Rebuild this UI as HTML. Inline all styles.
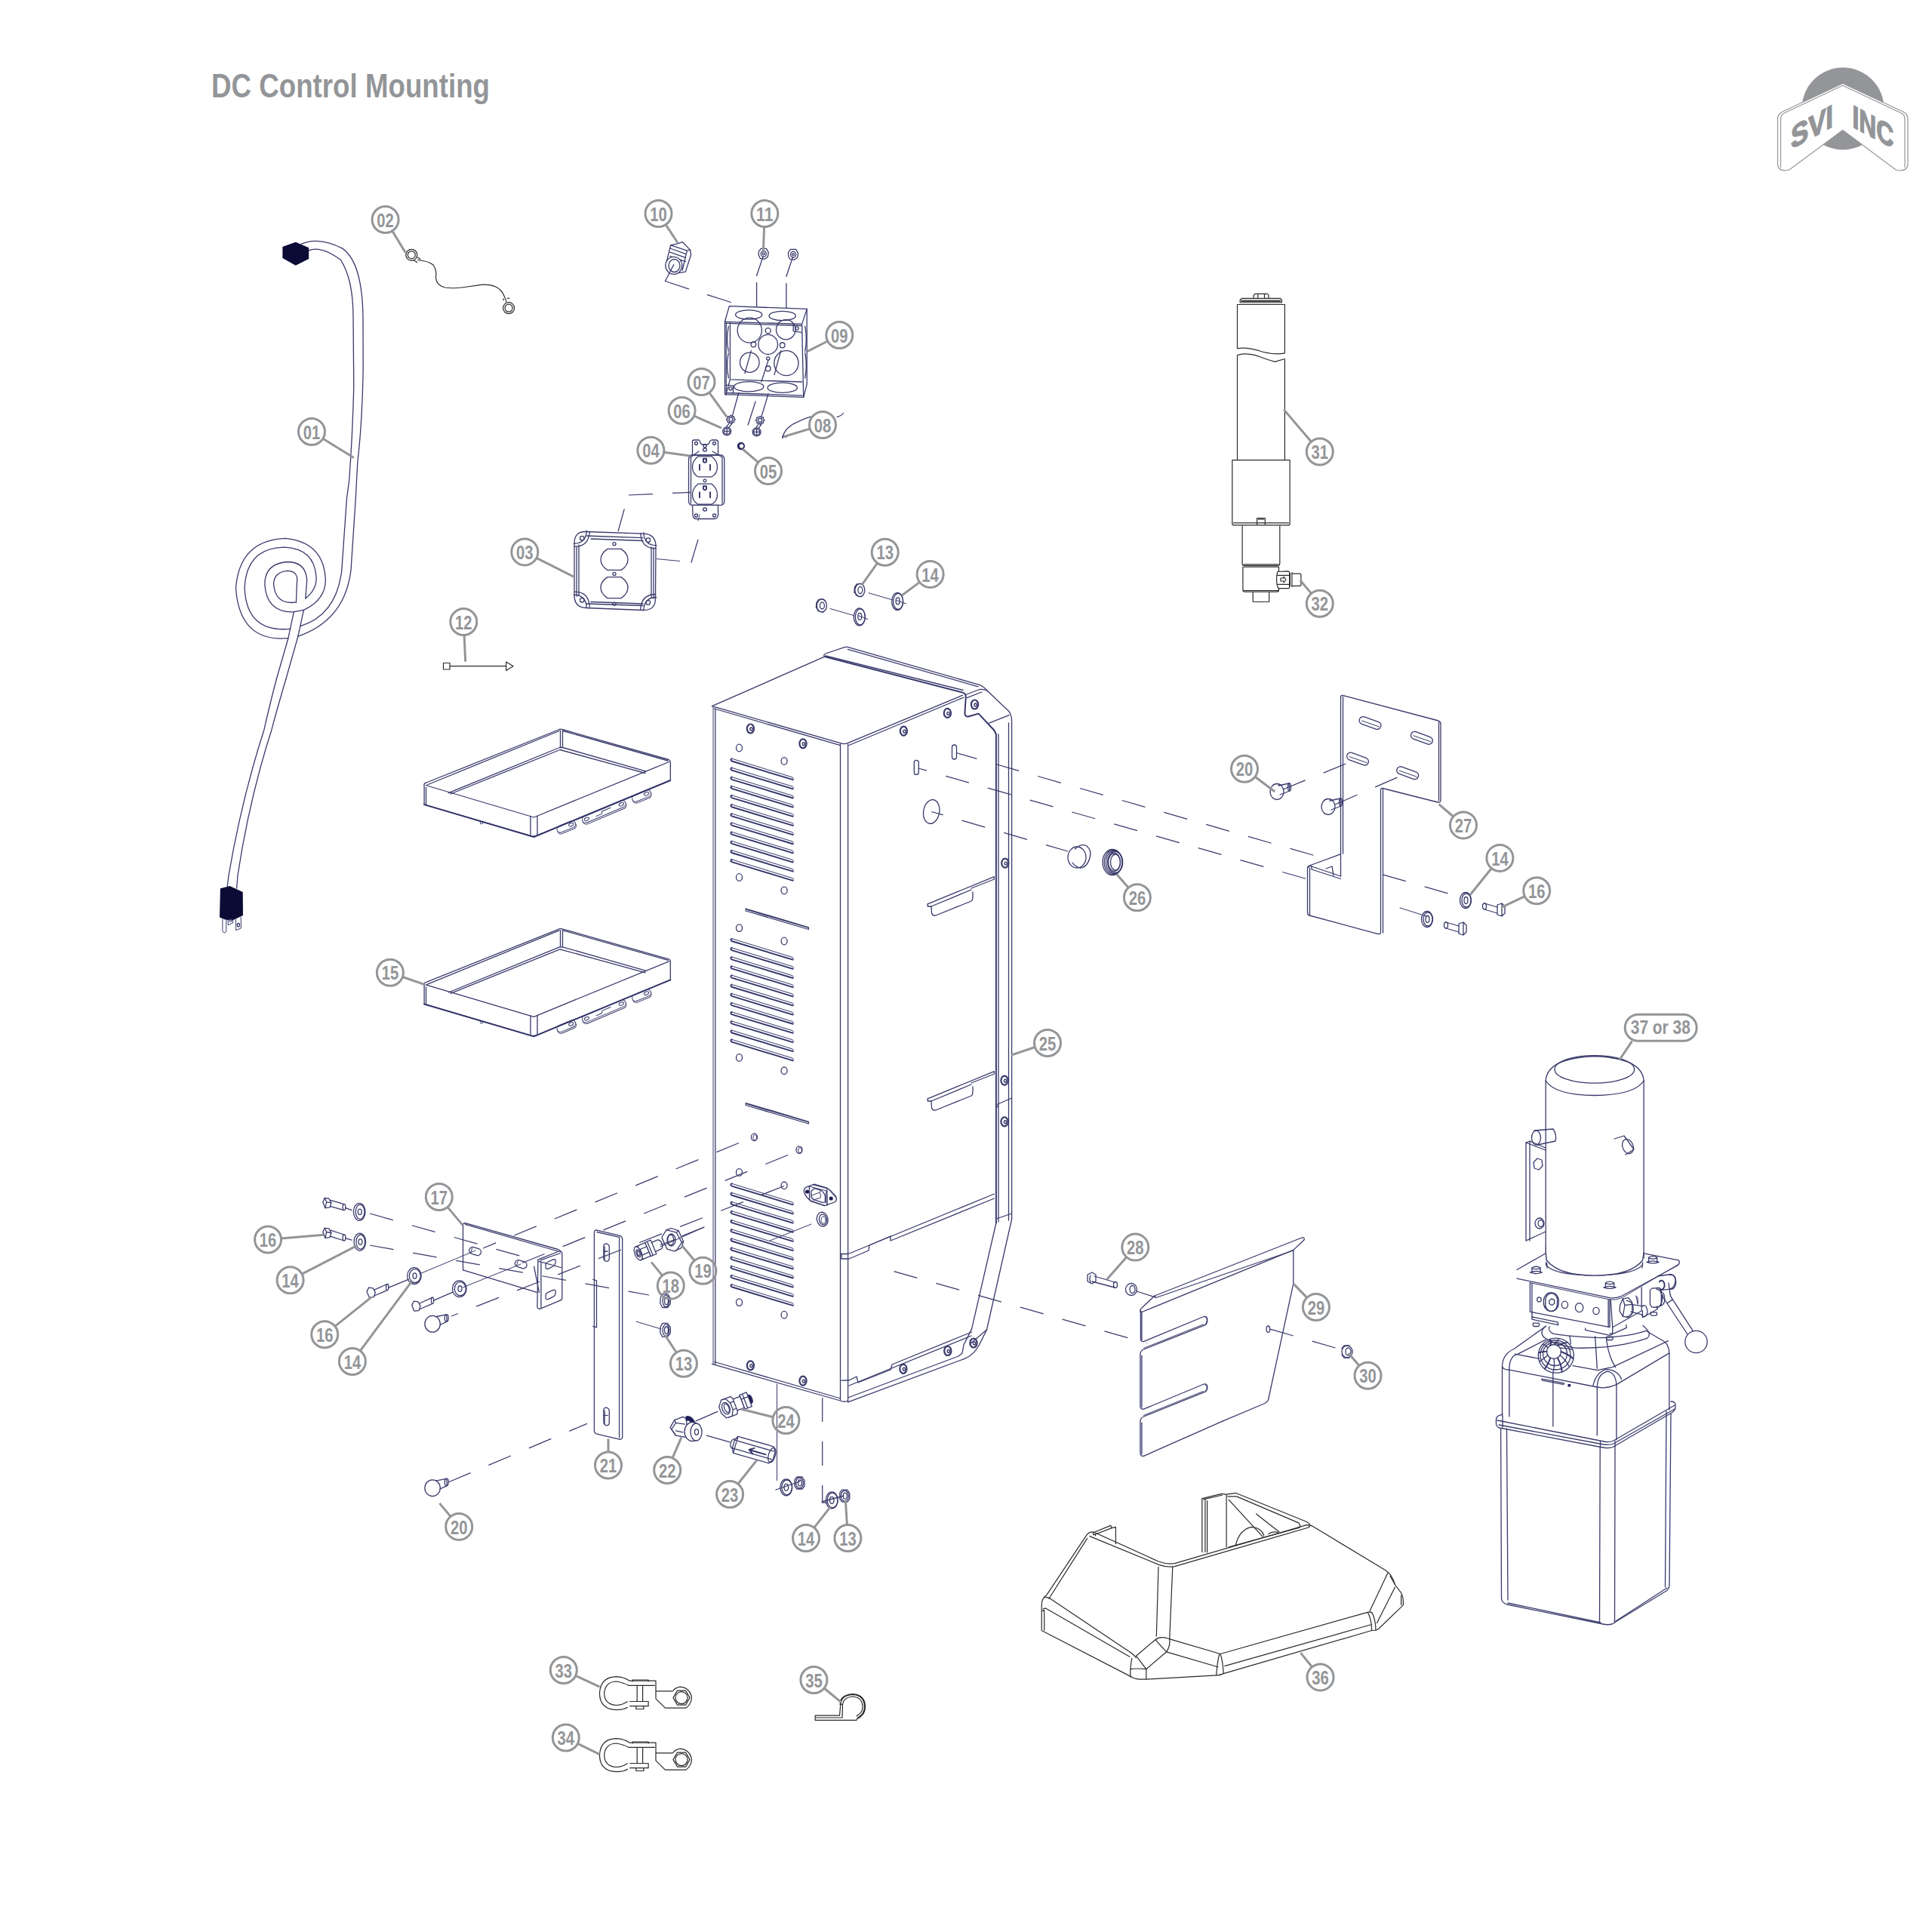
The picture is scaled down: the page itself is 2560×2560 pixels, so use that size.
<!DOCTYPE html>
<html><head><meta charset="utf-8"><style>
html,body{margin:0;padding:0;background:#fff;width:2560px;height:2560px;overflow:hidden}
svg{display:block}
.n{fill:none;stroke:#3a3a6c;stroke-width:1.3;stroke-linejoin:round;stroke-linecap:round}
.nt{fill:none;stroke:#3a3a6c;stroke-width:1.0;stroke-linecap:round}
.nk{fill:none;stroke:#34346a;stroke-width:1.9;stroke-linejoin:round;stroke-linecap:round}
.k{fill:none;stroke:#2a2a2a;stroke-width:1.2;stroke-linejoin:round}
.kk{fill:none;stroke:#2a2a2a;stroke-width:2.2;stroke-linejoin:round}
.d{fill:none;stroke:#3a3a6c;stroke-width:1.25;stroke-dasharray:32 26}
.cg{fill:none;stroke:#939598;stroke-width:3}
.cl{fill:none;stroke:#939598;stroke-width:3}
.ct{fill:#939598;font-family:"Liberation Sans",sans-serif;font-weight:bold;font-size:26.5px}
.w{fill:#fff}
</style></head><body>
<svg width="2560" height="2560" viewBox="0 0 2560 2560" xmlns="http://www.w3.org/2000/svg">
<text x="280" y="129" fill="#939598" style="font-family:'Liberation Sans',sans-serif;font-weight:bold;font-size:45px" textLength="369" lengthAdjust="spacingAndGlyphs">DC Control Mounting</text>
<g id="logo">
<circle cx="2442" cy="144" r="54.5" fill="#939598"/>
<path d="M2441.7,110.5 L2362,148 Q2355.5,151 2355.5,158 L2355.5,217 Q2355.5,226 2366,226 L2371,225 L2441.7,172.5 L2512,225 L2517,226 Q2528,226 2528,217 L2528,158 Q2528,151 2521.5,148 Z" fill="#fff" stroke="#939598" stroke-width="1.2"/>
<path d="M2441.7,113.2 L2364,150 Q2359.5,152 2359.5,158 L2359.5,222 M2441.7,113.2 L2519.5,150 Q2524,152 2524,158 L2524,222" fill="none" stroke="#939598" stroke-width="1.2"/>
<g fill="#939598" stroke="#939598" stroke-width="1.6" style="font-family:'Liberation Sans',sans-serif;font-weight:bold;font-size:42px">
<text transform="matrix(1,-0.55,0,1,2373,198)" textLength="56" lengthAdjust="spacingAndGlyphs">SVI</text>
<text transform="matrix(1,0.53,0,1,2454.5,168)" textLength="54.5" lengthAdjust="spacingAndGlyphs">INC</text>
</g>
</g>

<path fill="#fff" stroke="none" d="M943.5,935.6 L1092.6,870.2 L1094,866 L1123.3,857.3 L1296.6,907.2 L1309.2,916.3 L1337.1,942.8 L1340.6,955.4 L1340,1615.5 L1307.5,1777 L1297.5,1782 L1277.6,1800.6 L1123.6,1858 L1118.6,1858 L943.5,1807.3 Z"/>
<path class="n" d="M943.5,935.6 L1092.6,870.2"/>
<path class="n" d="M943.5,935.6 L1113.5,984.7 Q1118.6,986.5 1123.3,984.7 L1275.6,921.2"/>
<path class="n" d="M946.5,939 L1113.5,987.7"/>
<path class="n" d="M1125,987.5 L1277,924"/>
<path class="n" d="M1092.6,870.2 Q1090.5,868 1094,866 L1119.1,857.6 Q1121,857 1123.3,857.3 L1296.6,907.2 Q1303,909 1309.2,916.3 L1337.1,942.8 Q1340.6,948 1340.6,955.4 L1340.6,1615.5"/>
<path class="n" d="M1123.3,860.3 L1296,909.8"/>
<path class="nk" d="M1092.6,870.2 L1275.6,917.7 Q1279.8,919 1279.8,923.3 L1278.4,945.6 Q1279,950 1283,949.5 L1296.6,945.6 L1317.6,968 L1319.9,973 L1319.9,1620.5"/>
<path class="n" d="M1094,869 L1276,914.5"/>
<path class="n" d="M1279.8,920.5 L1298,913.5 Q1305,913 1309.2,916.3"/>
<path class="n" d="M1281.2,924.7 L1300.8,917"/>
<path class="n" d="M1310.6,958.2 L1337.1,947.7"/>
<path class="n" d="M1323,973 L1323,1619"/>
<path class="n" d="M1336.5,958 L1336.5,1617"/>
<path class="nt" d="M945,937 L945,1807.3"/>
<path class="n" d="M947.8,939 L947.8,1808"/>
<path class="n" d="M1113.5,986 L1113.5,1855"/>
<path class="n" d="M1123.6,986 L1123.6,1857.8"/>
<path class="n" d="M943.5,1807.3 L1113.5,1856 Q1118.6,1858.5 1123.6,1856"/>
<path class="n" d="M946.5,1804.5 L1113.5,1853"/>
<path class="n" d="M1123.6,1857.8 L1277.6,1800.6 Q1290,1796 1297.5,1782 L1307.5,1762 L1340.6,1615.5"/>
<path class="n" d="M1123.6,1852 L1270,1797 L1275,1793 L1277,1782 L1287.6,1760.9 L1319.9,1620.5"/>
<path class="n" d="M1285,1781 L1307.5,1762"/>
<path class="n" d="M1114.9,1661.5 L1114.9,1668 L1125,1668 L1151,1657 L1152,1650 L1180,1638 L1180,1644 L1317.4,1588"/>
<path class="n" d="M1124,1661.5 L1317.4,1582"/>
<path class="n" d="M1114.9,1661.5 L1124,1661.5"/>
<path class="n" d="M1114.9,1829.2 L1125,1829 L1135,1824 L1137,1832 L1180,1815 L1182,1808 L1287.6,1765"/>
<path class="n" d="M1125,1836 L1287,1770"/>
<path class="n" d="M1319.9,1464 L1340.6,1455"/>
<path class="n" d="M1319.9,1468 Q1321,1466 1323,1465"/>
<path class="n" d="M1320,1615 L1340.6,1608"/>
<path class="n" d="M1229.2,1197.8 L1229.2,1201 L1234,1201 L1234.5,1210 Q1236,1214 1240,1213 L1287,1194 Q1289,1193 1289,1188 L1289,1182"/>
<path class="n" d="M1229.2,1197.8 L1317.4,1161.7 L1317.4,1165 L1287,1177"/>
<path class="n" d="M1234,1201 L1287,1179"/>
<path class="n" d="M1229.2,1455.8 L1229.2,1459 L1234,1459 L1234.5,1468 Q1236,1472 1240,1471 L1287,1452 Q1289,1451 1289,1446 L1289,1440"/>
<path class="n" d="M1229.2,1455.8 L1317.4,1419.7 L1317.4,1423 L1287,1435"/>
<path class="n" d="M1234,1459 L1287,1437"/>
<ellipse class="n" cx="1291.5" cy="933.5" rx="4.6" ry="6.0" style="stroke-width:2.2"/>
<ellipse class="n" cx="1292.5" cy="934.0" rx="1.6" ry="2" style="stroke-width:1.4"/>
<ellipse class="n" cx="994.4" cy="965.5" rx="4.6" ry="6.0" style="stroke-width:2.2"/>
<ellipse class="n" cx="995.4" cy="966.0" rx="1.6" ry="2" style="stroke-width:1.4"/>
<ellipse class="n" cx="1064" cy="985.3" rx="4.6" ry="6.0" style="stroke-width:2.2"/>
<ellipse class="n" cx="1065" cy="985.8" rx="1.6" ry="2" style="stroke-width:1.4"/>
<ellipse class="n" cx="1197.4" cy="968.7" rx="4.6" ry="6.0" style="stroke-width:2.2"/>
<ellipse class="n" cx="1198.4" cy="969.2" rx="1.6" ry="2" style="stroke-width:1.4"/>
<ellipse class="n" cx="1255.4" cy="944.9" rx="4.6" ry="6.0" style="stroke-width:2.2"/>
<ellipse class="n" cx="1256.4" cy="945.4" rx="1.6" ry="2" style="stroke-width:1.4"/>
<ellipse class="n" cx="1331.8" cy="1143.6" rx="4.6" ry="6.0" style="stroke-width:2.2"/>
<ellipse class="n" cx="1332.8" cy="1144.1" rx="1.6" ry="2" style="stroke-width:1.4"/>
<ellipse class="n" cx="1331" cy="1431.7" rx="4.6" ry="6.0" style="stroke-width:2.2"/>
<ellipse class="n" cx="1332" cy="1432.2" rx="1.6" ry="2" style="stroke-width:1.4"/>
<ellipse class="n" cx="1331" cy="1486.3" rx="4.6" ry="6.0" style="stroke-width:2.2"/>
<ellipse class="n" cx="1332" cy="1486.8" rx="1.6" ry="2" style="stroke-width:1.4"/>
<ellipse class="n" cx="994.4" cy="1809.3" rx="4.6" ry="6.0" style="stroke-width:2.2"/>
<ellipse class="n" cx="995.4" cy="1809.8" rx="1.6" ry="2" style="stroke-width:1.4"/>
<ellipse class="n" cx="1064" cy="1829.7" rx="4.6" ry="6.0" style="stroke-width:2.2"/>
<ellipse class="n" cx="1065" cy="1830.2" rx="1.6" ry="2" style="stroke-width:1.4"/>
<ellipse class="n" cx="1196.9" cy="1813.8" rx="4.6" ry="6.0" style="stroke-width:2.2"/>
<ellipse class="n" cx="1197.9" cy="1814.3" rx="1.6" ry="2" style="stroke-width:1.4"/>
<ellipse class="n" cx="1255.8" cy="1790" rx="4.6" ry="6.0" style="stroke-width:2.2"/>
<ellipse class="n" cx="1256.8" cy="1790.5" rx="1.6" ry="2" style="stroke-width:1.4"/>
<ellipse class="n" cx="1290" cy="1779.5" rx="4.6" ry="6.0" style="stroke-width:2.2"/>
<ellipse class="n" cx="1291" cy="1780.0" rx="1.6" ry="2" style="stroke-width:1.4"/>
<path class="nt" d="M969.6,1005.2 L1050.3,1030.0 Q1052.6,1031.7 1050.6,1033.2"/>
<path class="nk" d="M1050.6,1033.2 L969.6,1008.5 Q967.1,1006.7 969.6,1005.2"/>
<path class="nt" d="M969.6,1017.35 L1050.3,1042.15 Q1052.6,1043.85 1050.6,1045.35"/>
<path class="nk" d="M1050.6,1045.35 L969.6,1020.65 Q967.1,1018.85 969.6,1017.35"/>
<path class="nt" d="M969.6,1029.5 L1050.3,1054.3 Q1052.6,1056.0 1050.6,1057.5"/>
<path class="nk" d="M1050.6,1057.5 L969.6,1032.8 Q967.1,1031.0 969.6,1029.5"/>
<path class="nt" d="M969.6,1041.65 L1050.3,1066.45 Q1052.6,1068.15 1050.6,1069.65"/>
<path class="nk" d="M1050.6,1069.65 L969.6,1044.95 Q967.1,1043.15 969.6,1041.65"/>
<path class="nt" d="M969.6,1053.8 L1050.3,1078.6 Q1052.6,1080.3 1050.6,1081.8"/>
<path class="nk" d="M1050.6,1081.8 L969.6,1057.1 Q967.1,1055.3 969.6,1053.8"/>
<path class="nt" d="M969.6,1065.95 L1050.3,1090.75 Q1052.6,1092.45 1050.6,1093.95"/>
<path class="nk" d="M1050.6,1093.95 L969.6,1069.25 Q967.1,1067.45 969.6,1065.95"/>
<path class="nt" d="M969.6,1078.1000000000001 L1050.3,1102.9 Q1052.6,1104.6000000000001 1050.6,1106.1000000000001"/>
<path class="nk" d="M1050.6,1106.1000000000001 L969.6,1081.4 Q967.1,1079.6000000000001 969.6,1078.1000000000001"/>
<path class="nt" d="M969.6,1090.25 L1050.3,1115.05 Q1052.6,1116.75 1050.6,1118.25"/>
<path class="nk" d="M1050.6,1118.25 L969.6,1093.55 Q967.1,1091.75 969.6,1090.25"/>
<path class="nt" d="M969.6,1102.4 L1050.3,1127.2 Q1052.6,1128.9 1050.6,1130.4"/>
<path class="nk" d="M1050.6,1130.4 L969.6,1105.7 Q967.1,1103.9 969.6,1102.4"/>
<path class="nt" d="M969.6,1114.55 L1050.3,1139.35 Q1052.6,1141.05 1050.6,1142.55"/>
<path class="nk" d="M1050.6,1142.55 L969.6,1117.85 Q967.1,1116.05 969.6,1114.55"/>
<path class="nt" d="M969.6,1126.7 L1050.3,1151.5 Q1052.6,1153.2 1050.6,1154.7"/>
<path class="nk" d="M1050.6,1154.7 L969.6,1130.0 Q967.1,1128.2 969.6,1126.7"/>
<path class="nt" d="M969.6,1138.8500000000001 L1050.3,1163.65 Q1052.6,1165.3500000000001 1050.6,1166.8500000000001"/>
<path class="nk" d="M1050.6,1166.8500000000001 L969.6,1142.15 Q967.1,1140.3500000000001 969.6,1138.8500000000001"/>
<path class="nt" d="M969.6,1243.7 L1050.3,1268.5 Q1052.6,1270.2 1050.6,1271.7"/>
<path class="nk" d="M1050.6,1271.7 L969.6,1247.0 Q967.1,1245.2 969.6,1243.7"/>
<path class="nt" d="M969.6,1255.8500000000001 L1050.3,1280.65 Q1052.6,1282.3500000000001 1050.6,1283.8500000000001"/>
<path class="nk" d="M1050.6,1283.8500000000001 L969.6,1259.15 Q967.1,1257.3500000000001 969.6,1255.8500000000001"/>
<path class="nt" d="M969.6,1268.0 L1050.3,1292.8 Q1052.6,1294.5 1050.6,1296.0"/>
<path class="nk" d="M1050.6,1296.0 L969.6,1271.3 Q967.1,1269.5 969.6,1268.0"/>
<path class="nt" d="M969.6,1280.15 L1050.3,1304.95 Q1052.6,1306.65 1050.6,1308.15"/>
<path class="nk" d="M1050.6,1308.15 L969.6,1283.45 Q967.1,1281.65 969.6,1280.15"/>
<path class="nt" d="M969.6,1292.3 L1050.3,1317.1 Q1052.6,1318.8 1050.6,1320.3"/>
<path class="nk" d="M1050.6,1320.3 L969.6,1295.6 Q967.1,1293.8 969.6,1292.3"/>
<path class="nt" d="M969.6,1304.45 L1050.3,1329.25 Q1052.6,1330.95 1050.6,1332.45"/>
<path class="nk" d="M1050.6,1332.45 L969.6,1307.75 Q967.1,1305.95 969.6,1304.45"/>
<path class="nt" d="M969.6,1316.6000000000001 L1050.3,1341.4 Q1052.6,1343.1000000000001 1050.6,1344.6000000000001"/>
<path class="nk" d="M1050.6,1344.6000000000001 L969.6,1319.9 Q967.1,1318.1000000000001 969.6,1316.6000000000001"/>
<path class="nt" d="M969.6,1328.75 L1050.3,1353.55 Q1052.6,1355.25 1050.6,1356.75"/>
<path class="nk" d="M1050.6,1356.75 L969.6,1332.05 Q967.1,1330.25 969.6,1328.75"/>
<path class="nt" d="M969.6,1340.9 L1050.3,1365.7 Q1052.6,1367.4 1050.6,1368.9"/>
<path class="nk" d="M1050.6,1368.9 L969.6,1344.2 Q967.1,1342.4 969.6,1340.9"/>
<path class="nt" d="M969.6,1353.05 L1050.3,1377.85 Q1052.6,1379.55 1050.6,1381.05"/>
<path class="nk" d="M1050.6,1381.05 L969.6,1356.35 Q967.1,1354.55 969.6,1353.05"/>
<path class="nt" d="M969.6,1365.2 L1050.3,1390.0 Q1052.6,1391.7 1050.6,1393.2"/>
<path class="nk" d="M1050.6,1393.2 L969.6,1368.5 Q967.1,1366.7 969.6,1365.2"/>
<path class="nt" d="M969.6,1377.3500000000001 L1050.3,1402.15 Q1052.6,1403.8500000000001 1050.6,1405.3500000000001"/>
<path class="nk" d="M1050.6,1405.3500000000001 L969.6,1380.65 Q967.1,1378.8500000000001 969.6,1377.3500000000001"/>
<path class="nt" d="M969.6,1568.3 L1050.3,1593.1 Q1052.6,1594.8 1050.6,1596.3"/>
<path class="nk" d="M1050.6,1596.3 L969.6,1571.6 Q967.1,1569.8 969.6,1568.3"/>
<path class="nt" d="M969.6,1580.45 L1050.3,1605.25 Q1052.6,1606.95 1050.6,1608.45"/>
<path class="nk" d="M1050.6,1608.45 L969.6,1583.75 Q967.1,1581.95 969.6,1580.45"/>
<path class="nt" d="M969.6,1592.6 L1050.3,1617.3999999999999 Q1052.6,1619.1 1050.6,1620.6"/>
<path class="nk" d="M1050.6,1620.6 L969.6,1595.8999999999999 Q967.1,1594.1 969.6,1592.6"/>
<path class="nt" d="M969.6,1604.75 L1050.3,1629.55 Q1052.6,1631.25 1050.6,1632.75"/>
<path class="nk" d="M1050.6,1632.75 L969.6,1608.05 Q967.1,1606.25 969.6,1604.75"/>
<path class="nt" d="M969.6,1616.8999999999999 L1050.3,1641.6999999999998 Q1052.6,1643.3999999999999 1050.6,1644.8999999999999"/>
<path class="nk" d="M1050.6,1644.8999999999999 L969.6,1620.1999999999998 Q967.1,1618.3999999999999 969.6,1616.8999999999999"/>
<path class="nt" d="M969.6,1629.05 L1050.3,1653.85 Q1052.6,1655.55 1050.6,1657.05"/>
<path class="nk" d="M1050.6,1657.05 L969.6,1632.35 Q967.1,1630.55 969.6,1629.05"/>
<path class="nt" d="M969.6,1641.2 L1050.3,1666.0 Q1052.6,1667.7 1050.6,1669.2"/>
<path class="nk" d="M1050.6,1669.2 L969.6,1644.5 Q967.1,1642.7 969.6,1641.2"/>
<path class="nt" d="M969.6,1653.35 L1050.3,1678.1499999999999 Q1052.6,1679.85 1050.6,1681.35"/>
<path class="nk" d="M1050.6,1681.35 L969.6,1656.6499999999999 Q967.1,1654.85 969.6,1653.35"/>
<path class="nt" d="M969.6,1665.5 L1050.3,1690.3 Q1052.6,1692.0 1050.6,1693.5"/>
<path class="nk" d="M1050.6,1693.5 L969.6,1668.8 Q967.1,1667.0 969.6,1665.5"/>
<path class="nt" d="M969.6,1677.6499999999999 L1050.3,1702.4499999999998 Q1052.6,1704.1499999999999 1050.6,1705.6499999999999"/>
<path class="nk" d="M1050.6,1705.6499999999999 L969.6,1680.9499999999998 Q967.1,1679.1499999999999 969.6,1677.6499999999999"/>
<path class="nt" d="M969.6,1689.8 L1050.3,1714.6 Q1052.6,1716.3 1050.6,1717.8"/>
<path class="nk" d="M1050.6,1717.8 L969.6,1693.1 Q967.1,1691.3 969.6,1689.8"/>
<path class="nt" d="M969.6,1701.95 L1050.3,1726.75 Q1052.6,1728.45 1050.6,1729.95"/>
<path class="nk" d="M1050.6,1729.95 L969.6,1705.25 Q967.1,1703.45 969.6,1701.95"/>
<ellipse class="n" cx="979.5" cy="991" rx="4" ry="4.8"/>
<ellipse class="n" cx="1039.1" cy="1008.4" rx="4" ry="4.8"/>
<ellipse class="n" cx="979.5" cy="1162.5" rx="4" ry="4.8"/>
<ellipse class="n" cx="1039.1" cy="1179.9" rx="4" ry="4.8"/>
<ellipse class="n" cx="979.5" cy="1229.6" rx="4" ry="4.8"/>
<ellipse class="n" cx="1039.1" cy="1247" rx="4" ry="4.8"/>
<ellipse class="n" cx="979.5" cy="1401.4" rx="4" ry="4.8"/>
<ellipse class="n" cx="1039.1" cy="1418.8" rx="4" ry="4.8"/>
<ellipse class="n" cx="979.5" cy="1553.4" rx="4" ry="4.8"/>
<ellipse class="n" cx="1039.1" cy="1570.8" rx="4" ry="4.8"/>
<ellipse class="n" cx="979.5" cy="1725.6" rx="4" ry="4.8"/>
<ellipse class="n" cx="1039.1" cy="1742.2" rx="4" ry="4.8"/>
<ellipse class="n" cx="999.4" cy="1506.7" rx="4" ry="4.8"/><ellipse class="nt" cx="1000.4" cy="1507.2" rx="2.5" ry="3.5"/>
<ellipse class="n" cx="1059" cy="1523.6" rx="4" ry="4.8"/><ellipse class="nt" cx="1060" cy="1524.1" rx="2.5" ry="3.5"/>
<path class="n" d="M988.2,1204 L988.2,1207 L1071.4,1231.5 L1071.4,1228.8 Z M990,1205.5 L1070,1229"/>
<path class="n" d="M988.2,1461.5 L988.2,1464.5 L1071.4,1489.0 L1071.4,1486.3 Z M990,1463.0 L1070,1486.5"/>
<rect class="n" x="1211.3" y="1007.4" width="6" height="19" rx="3"/>
<rect class="n" x="1261.5" y="987.0" width="6" height="19" rx="3"/>
<ellipse class="n" cx="1234.2" cy="1075.5" rx="10.5" ry="16" transform="rotate(10 1234.2 1075.5)"/>
<path class="n" d="M 1072.3,1571.6 L 1079.1,1569.1 L 1095.9,1574.0 Q 1099.6,1575.9 1107.1,1584.6 Q 1110.2,1590.2 1105.8,1593.0 L 1092.8,1597.6 L 1073.5,1590.8 Q 1063.6,1582.1 1065.5,1575.9 Q 1067.3,1572.8 1072.3,1571.6"/>
<path class="n" d="M 1072.3,1571.6 L 1072.6,1588.9 Q 1073.5,1592.0 1077.3,1592.7 L 1092.8,1597.6"/>
<path class="n" d="M 1077.3,1569.7 L 1095.9,1574.7 L 1096.2,1597.0"/>
<path class="nt" d="M 1072.9,1572.2 L 1094.7,1577.8 L 1094.7,1594.5"/>
<path class="n" d="M 1074.8,1578.4 L 1079.1,1574.7 L 1087.2,1577.1 Q 1091.6,1579.0 1093.4,1584.6 L 1093.4,1592.0 Q 1092.8,1593.9 1089.7,1593.3 L 1078.5,1589.6 Q 1075.4,1588.3 1074.8,1584.6 Z"/>
<path class="nt" d="M 1075.4,1584.0 L 1086.0,1580.2 Q 1088.4,1582.1 1087.2,1587.1 L 1077.3,1590.2"/>
<path class="nt" d="M 1086.0,1580.2 L 1087.2,1577.1"/>
<path class="nt" d="M 1097.8,1575.9 L 1107.1,1586.5"/>
<circle cx="1069.5" cy="1579.0" r="2.6" fill="#1d1d55"/><circle cx="1101.2" cy="1588.0" r="2.6" fill="#1d1d55"/>
<ellipse class="n" cx="1089.7" cy="1615.7" rx="7.3" ry="9.5" transform="rotate(-12 1089.7 1615.7)"/><ellipse class="n" cx="1090.5" cy="1616" rx="5" ry="7" transform="rotate(-12 1090.5 1616)"/><ellipse class="nt" cx="1091" cy="1616.5" rx="3" ry="4.5"/>
<path fill="#fff" d="M562.1,1041.2 L741.9,967.4 L888.3,1009 L888.3,1034 L707.4,1107.9 L562.1,1066.2 Z"/>
<g transform="translate(750.5,1095.8) rotate(-23)"><rect class="nt" x="-13.0" y="-3" width="26" height="9" rx="4.5" style="fill:#fff"/><rect class="nt" x="-13.0" y="-5" width="26" height="9" rx="4.5" style="fill:#fff"/><ellipse class="nt" cx="7.0" cy="-0.5" rx="3.3" ry="2"/></g>
<g transform="translate(850.2,1055) rotate(-23)"><rect class="nt" x="-13.0" y="-3" width="26" height="9" rx="4.5" style="fill:#fff"/><rect class="nt" x="-13.0" y="-5" width="26" height="9" rx="4.5" style="fill:#fff"/><ellipse class="nt" cx="7.0" cy="-0.5" rx="3.3" ry="2"/></g>
<g transform="translate(800.5,1076) rotate(-23)"><rect class="nt" x="-31.0" y="-3" width="62" height="9" rx="4.5" style="fill:#fff"/><rect class="nt" x="-31.0" y="-5" width="62" height="9" rx="4.5" style="fill:#fff"/><ellipse class="nt" cx="25.0" cy="-0.5" rx="3.3" ry="2"/><ellipse class="nt" cx="-25.0" cy="-0.5" rx="3.3" ry="2"/><path class="nt" d="M-12,1 L-4,1 L-2,-2 L10,-2"/></g>
<circle class="nt" cx="638" cy="1090" r="1.8"/>
<path class="n" d="M562.1,1041.2 Q561,1038 565,1037 L740,967 Q742,965.5 745,966.5 L886,1006.5 Q888.5,1007.5 888.3,1010 L888.3,1034 L712,1107 Q707.4,1109 703,1107.5 L562.1,1066.2 Z"/>
<path class="n" d="M564,1040.5 L707.4,1083 L886.5,1009.5"/>
<path class="n" d="M703,1081.5 L703,1106 M712,1081.5 L712,1106.5"/>
<path class="n" d="M564.5,1043.5 L564.5,1066.5"/>
<path class="n" d="M742.5,968 L742.5,990.5 M745.5,968 L745.5,990.5"/>
<path class="n" d="M594.3,1050.7 L741.5,990.5 L745.5,990.5 L856.2,1022.1"/>
<path class="n" d="M597,1052 L742,993.5 L855,1024.5"/>
<path class="n" d="M566,1040 L741,968.5 M746,968.5 L885,1008"/>
<path class="nk" d="M562.1,1066.2 L707.4,1109 L888.3,1034"/>
<path fill="#fff" d="M562.1,1305.5 L741.9,1231.7 L888.3,1273.3 L888.3,1298.3 L707.4,1372.2 L562.1,1330.5 Z"/>
<g transform="translate(750.5,1360.1) rotate(-23)"><rect class="nt" x="-13.0" y="-3" width="26" height="9" rx="4.5" style="fill:#fff"/><rect class="nt" x="-13.0" y="-5" width="26" height="9" rx="4.5" style="fill:#fff"/><ellipse class="nt" cx="7.0" cy="-0.5" rx="3.3" ry="2"/></g>
<g transform="translate(850.2,1319.3) rotate(-23)"><rect class="nt" x="-13.0" y="-3" width="26" height="9" rx="4.5" style="fill:#fff"/><rect class="nt" x="-13.0" y="-5" width="26" height="9" rx="4.5" style="fill:#fff"/><ellipse class="nt" cx="7.0" cy="-0.5" rx="3.3" ry="2"/></g>
<g transform="translate(800.5,1340.3) rotate(-23)"><rect class="nt" x="-31.0" y="-3" width="62" height="9" rx="4.5" style="fill:#fff"/><rect class="nt" x="-31.0" y="-5" width="62" height="9" rx="4.5" style="fill:#fff"/><ellipse class="nt" cx="25.0" cy="-0.5" rx="3.3" ry="2"/><ellipse class="nt" cx="-25.0" cy="-0.5" rx="3.3" ry="2"/><path class="nt" d="M-12,1 L-4,1 L-2,-2 L10,-2"/></g>
<circle class="nt" cx="638" cy="1354.3" r="1.8"/>
<path class="n" d="M562.1,1305.5 Q561,1302.3 565,1301.3 L740,1231.3 Q742,1229.8 745,1230.8 L886,1270.8 Q888.5,1271.8 888.3,1274.3 L888.3,1298.3 L712,1371.3 Q707.4,1373.3 703,1371.8 L562.1,1330.5 Z"/>
<path class="n" d="M564,1304.8 L707.4,1347.3 L886.5,1273.8"/>
<path class="n" d="M703,1345.8 L703,1370.3 M712,1345.8 L712,1370.8"/>
<path class="n" d="M564.5,1307.8 L564.5,1330.8"/>
<path class="n" d="M742.5,1232.3 L742.5,1254.8 M745.5,1232.3 L745.5,1254.8"/>
<path class="n" d="M594.3,1315.0 L741.5,1254.8 L745.5,1254.8 L856.2,1286.4"/>
<path class="n" d="M597,1316.3 L742,1257.8 L855,1288.8"/>
<path class="n" d="M566,1304.3 L741,1232.8 M746,1232.8 L885,1272.3"/>
<path class="nk" d="M562.1,1330.5 L707.4,1373.3 L888.3,1298.3"/>
<path fill="#fff" d="M615.0,1620.7 L740.8,1656.5 L743.9,1659.6 L743.9,1721.7 L712.9,1734.1 L711.3,1712.4 L613.5,1682.9 Z"/>
<path class="n" d="M 613.5,1682.9 L 613.5,1623.9 Q 613.5,1620.1 616.6,1620.7 L 739.3,1655.5 Q 743.0,1656.8 742.4,1658.6"/>
<path class="n" d="M 616.6,1621.4 L 616.6,1622.3 L 739.3,1658.0"/>
<path class="n" d="M 613.5,1682.9 L 711.3,1712.4"/>
<path class="n" d="M 707.6,1678.2 L 714.4,1712.4"/>
<path class="n" d="M 712.9,1670.4 Q 711.9,1668.9 714.4,1668.3 L 740.8,1658.0 Q 744.8,1657.4 744.8,1661.1 L 744.8,1720.1 Q 744.8,1722.6 742.4,1723.2 L 716.0,1734.1 Q 711.9,1735.0 711.9,1731.0 Z"/>
<path class="n" d="M 716.9,1672.0 L 716.9,1732.5 M 716.0,1669.8 L 742.4,1660.5"/>
<g transform="translate(629.6,1658) rotate(17)"><rect class="n" x="-8" y="-4.5" width="16" height="9" rx="4.5"/><path class="nt" d="M-5,-3 L-5,3"/></g>
<g transform="translate(690.2,1675.2) rotate(17)"><rect class="n" x="-8" y="-4.5" width="16" height="9" rx="4.5"/><path class="nt" d="M-5,-3 L-5,3"/></g>
<path class="n" d="M 723.1,1678.2 Q 722.5,1673.5 726.2,1672.0 L 733.0,1668.9 Q 737.1,1668.0 736.1,1672.9 L 735.5,1675.1 Q 734.9,1677.3 731.8,1678.5 L 726.2,1681.3 Q 723.1,1682.2 723.1,1678.2"/>
<path class="n" d="M 723.1,1718.6 Q 722.5,1713.9 726.2,1712.4 L 733.0,1709.3 Q 737.1,1708.3 736.1,1713.3 L 735.5,1715.5 Q 734.9,1717.6 731.8,1718.9 L 726.2,1721.7 Q 723.1,1722.6 723.1,1718.6"/>
<path fill="#fff" d="M787.4,1630.1 L823.1,1637.8 L824.7,1906.5 L787.4,1898.7 Z"/>
<path class="n" d="M 787.4,1633.2 Q 787.4,1629.4 791.1,1630.1 L 820.6,1637.2 Q 824.7,1638.4 824.7,1642.5 L 824.7,1903.4 Q 824.7,1908.0 820.6,1907.1 L 791.1,1900.2 Q 787.4,1899.3 787.4,1895.6 Z"/>
<path class="n" d="M 791.1,1632.5 L 820.6,1639.4 M 820.6,1639.4 L 820.6,1904.9"/>
<path class="n" d="M 785.8,1695.3 L 790.5,1696.8 L 790.5,1758.9 L 785.8,1757.4"/>
<path class="n" d="M 799.8,1651.8 Q 799.8,1647.8 803.5,1647.8 Q 807.3,1648.7 807.3,1652.7 L 807.3,1667.3 Q 807.3,1671.4 803.5,1671.4 Q 799.8,1670.4 799.8,1666.4 Z"/>
<path class="n" d="M 801.1,1651.8 L 801.1,1668.9 M 799.8,1658.0 L 805.1,1658.0"/>
<path class="n" d="M 799.8,1869.2 Q 799.8,1865.2 803.5,1865.2 Q 807.3,1866.1 807.3,1870.1 L 807.3,1884.7 Q 807.3,1888.8 803.5,1888.8 Q 799.8,1887.8 799.8,1883.8 Z"/>
<path class="n" d="M 801.1,1869.2 L 801.1,1886.3 M 799.8,1875.4 L 805.1,1875.4"/>
<path class="n" d="M 427.8,1592.8 L 430.2,1587.5 L 435.8,1588.1 L 438.9,1593.7 L 437.1,1599.9 L 430.9,1600.6 Z"/>
<path class="n" d="M 430.2,1587.5 L 432.7,1592.8 L 438.9,1593.7 M 432.7,1592.8 L 430.9,1600.6"/>
<path class="n" d="M 438.0,1590.3 L 456.0,1595.6 M 437.4,1598.4 L 456.0,1603.7"/>
<ellipse class="n" cx="456.0" cy="1599.6" rx="1.9" ry="4.0"/>
<path class="n" d="M 427.8,1632.5 L 430.2,1627.3 L 435.8,1627.9 L 438.9,1633.5 L 437.1,1639.7 L 430.9,1640.3 Z"/>
<path class="n" d="M 430.2,1627.3 L 432.7,1632.5 L 438.9,1633.5 M 432.7,1632.5 L 430.9,1640.3"/>
<path class="n" d="M 438.0,1630.1 L 456.0,1636.0 M 437.4,1638.1 L 456.0,1644.0"/>
<ellipse class="n" cx="456.0" cy="1640.0" rx="1.9" ry="4.0"/>
<path class="n" d="M 486.1,1711.4 L 488.6,1706.1 L 494.2,1706.8 L 497.3,1712.4 L 495.5,1718.6 L 489.3,1719.2 Z"/>
<path class="n" d="M 496.4,1708.9 L 513.2,1701.5 M 495.8,1717.0 L 513.2,1709.6"/>
<ellipse class="n" cx="513.2" cy="1705.5" rx="1.6" ry="4.0"/>
<path class="n" d="M 545.8,1729.4 L 548.3,1724.2 L 553.9,1724.8 L 557.0,1730.4 L 555.1,1736.6 L 548.9,1737.2 Z"/>
<path class="n" d="M 556.0,1727.0 L 573.1,1719.2 M 555.4,1735.0 L 573.1,1727.3"/>
<ellipse class="n" cx="573.1" cy="1723.2" rx="1.6" ry="4.0"/>
<ellipse class="n" cx="476.2" cy="1605.8" rx="7.8" ry="11.5" style="fill:#fff"/>
<ellipse class="n" cx="477.1" cy="1605.8" rx="5.9" ry="9.6"/>
<ellipse class="n" cx="476.8" cy="1605.8" rx="2.5" ry="3.7"/>
<ellipse class="n" cx="476.8" cy="1645.6" rx="7.8" ry="11.5" style="fill:#fff"/>
<ellipse class="n" cx="477.8" cy="1645.6" rx="5.9" ry="9.6"/>
<ellipse class="n" cx="477.5" cy="1645.6" rx="2.5" ry="3.7"/>
<ellipse class="n" cx="548.9" cy="1690.6" rx="9.3" ry="10.9" style="fill:#fff"/>
<ellipse class="n" cx="549.8" cy="1690.6" rx="7.5" ry="9.0"/>
<ellipse class="n" cx="549.5" cy="1690.6" rx="2.5" ry="3.7"/>
<ellipse class="n" cx="608.8" cy="1707.7" rx="9.3" ry="10.9" style="fill:#fff"/>
<ellipse class="n" cx="609.8" cy="1707.7" rx="7.5" ry="9.0"/>
<ellipse class="n" cx="609.4" cy="1707.7" rx="2.5" ry="3.7"/>
<path class="n" d="M 576.2,1745.0 L 591.7,1741.9 L 592.4,1751.2 L 577.8,1758.0"/>
<ellipse class="n" cx="591.7" cy="1746.5" rx="2.5" ry="4.7"/>
<ellipse class="n" cx="573.1" cy="1754.3" rx="10.2" ry="10.9" style="fill:#fff"/>
<path class="n" d="M 576.2,1962.4 L 591.7,1959.3 L 592.4,1968.6 L 577.8,1975.4"/>
<ellipse class="n" cx="591.7" cy="1963.9" rx="2.5" ry="4.7"/>
<ellipse class="n" cx="573.1" cy="1971.7" rx="10.2" ry="10.9" style="fill:#fff"/>
<path class="n" d="M 458.2,1600.6 L 466.0,1603.7"/>
<path class="n" d="M 458.2,1640.9 L 466.0,1643.1"/>
<path class="n" d="M 515.0,1706.1 L 541.1,1695.3"/>
<path class="n" d="M 574.7,1723.2 L 599.5,1712.4"/>
<path class="n" d="M 875.3,1758.0 L 877.8,1753.4 L 884.6,1753.4 L 888.3,1758.9 L 888.3,1766.4 L 884.6,1771.4 L 877.8,1771.4 L 874.7,1765.8 Z"/>
<ellipse class="n" cx="882.4" cy="1762.7" rx="4.3" ry="7.8"/>
<ellipse class="n" cx="883.0" cy="1762.7" rx="2.5" ry="4.7"/>
<path class="n" d="M 875.3,1719.2 L 877.8,1714.5 L 884.6,1714.5 L 888.3,1720.1 L 888.3,1727.6 L 884.6,1732.5 L 877.8,1732.5 L 874.7,1727.0 Z"/>
<ellipse class="n" cx="882.4" cy="1723.9" rx="4.3" ry="7.8"/>
<ellipse class="n" cx="883.0" cy="1723.9" rx="2.5" ry="4.7"/>
<path fill="#fff" d="M1778.3,921.5 L1908.7,955.9 L1908.7,1063.6 L1830,1045 L1830,1237.5 L1732.7,1212.6 L1732.7,1148.4 L1776.2,1131.9 Z"/>
<path class="n" d="M1776.5,924 Q1776.5,920.5 1780,921.5 L1906,955 Q1909,956 1909,959.5 L1909,1060 Q1909,1064 1905,1063 L1832,1044.5 Q1829.5,1044 1829.5,1047 L1829.5,1235 Q1829.5,1238.5 1826,1237.5 L1735,1213 Q1732.5,1212.5 1732.5,1209 L1732.5,1150.5 Q1732.5,1148 1735,1147 L1776.2,1131.9"/>
<path class="n" d="M1779.5,923.5 L1779.5,1131"/>
<path class="n" d="M1776.5,924 L1776.5,1161"/>
<path class="n" d="M1906.5,957 L1906.5,1061"/>
<path class="n" d="M1832.5,1045.5 L1832.5,1236"/>
<path class="n" d="M1735.5,1150 L1735.5,1212"/>
<path class="n" d="M1733.5,1149.5 Q1735,1146 1738,1148 L1776.5,1161"/>
<path class="n" d="M1738,1148 L1738,1152 L1776.5,1164.5"/>
<path class="n" d="M1757,1151 L1765,1148 L1767,1160"/>
<rect class="n" x="1800.5" y="953" width="30" height="10" rx="5" transform="rotate(20 1815.5 958)"/>
<path class="nt" d="M1804.5,955 L1827.5,963" transform="rotate(0 1815.5 958)"/>
<rect class="n" x="1868.9" y="972.8" width="30" height="10" rx="5" transform="rotate(20 1883.9 977.8)"/>
<path class="nt" d="M1872.9,974.8 L1895.9,982.8" transform="rotate(0 1883.9 977.8)"/>
<rect class="n" x="1784" y="1000.6" width="30" height="10" rx="5" transform="rotate(20 1799 1005.6)"/>
<path class="nt" d="M1788,1002.6 L1811,1010.6" transform="rotate(0 1799 1005.6)"/>
<rect class="n" x="1850.2" y="1019.2" width="30" height="10" rx="5" transform="rotate(20 1865.2 1024.2)"/>
<path class="nt" d="M1854.2,1021.2 L1877.2,1029.2" transform="rotate(0 1865.2 1024.2)"/>
<ellipse class="n" cx="1692" cy="1049" rx="9" ry="10.5" fill="#fff" style="fill:#fff"/>
<path class="n" d="M1694,1041 L1708,1038 L1709,1048 L1696,1053"/>
<ellipse class="n" cx="1708.5" cy="1043" rx="2" ry="5"/>
<ellipse class="n" cx="1760" cy="1069" rx="9" ry="10.5" fill="#fff" style="fill:#fff"/>
<path class="n" d="M1762,1061 L1776,1058 L1777,1068 L1764,1073"/>
<ellipse class="n" cx="1776.5" cy="1063" rx="2" ry="5"/>
<path class="n" d="M1424.5,1125 Q1431,1118 1438,1120 L1440,1121 Q1447,1127 1444,1137 Q1440,1150 1431,1150 Q1424,1148 1421,1143"/>
<ellipse class="n" cx="1427" cy="1136" rx="12" ry="14"/>
<ellipse class="n" cx="1474.0" cy="1142.5" rx="13" ry="17"/>
<ellipse class="n" cx="1475.2" cy="1142.5" rx="12" ry="16"/>
<ellipse class="n" cx="1476.4" cy="1142.5" rx="11" ry="15"/>
<ellipse class="n" cx="1477.6" cy="1142.5" rx="10" ry="14"/>
<ellipse class="n" cx="1476.5" cy="1142.5" rx="8" ry="12"/>
<ellipse class="n" cx="1478" cy="1142.5" rx="6.5" ry="10.5"/>
<ellipse class="n" cx="1942" cy="1193" rx="7.5" ry="10.5" style="fill:#fff"/>
<ellipse class="n" cx="1943" cy="1193" rx="6.0" ry="9.0"/>
<ellipse class="n" cx="1942.5" cy="1193" rx="2.5" ry="4.5"/>
<path class="n" d="M1967,1197 L1984,1202 M1967,1205 L1984,1210"/>
<ellipse class="n" cx="1967" cy="1201" rx="2.5" ry="4"/>
<path class="n" d="M1984,1199 L1990,1197 L1994,1201 L1994,1210 L1990,1214 L1984,1212 Z M1990,1197 L1990,1214"/>
<ellipse class="n" cx="1891" cy="1218" rx="7.5" ry="10.5" style="fill:#fff"/>
<ellipse class="n" cx="1892" cy="1218" rx="6.0" ry="9.0"/>
<ellipse class="n" cx="1891.5" cy="1218" rx="2.5" ry="4.5"/>
<path class="n" d="M1916,1222 L1933,1227 M1916,1230 L1933,1235"/>
<ellipse class="n" cx="1916" cy="1226" rx="2.5" ry="4"/>
<path class="n" d="M1933,1224 L1939,1222 L1943,1226 L1943,1235 L1939,1239 L1933,1237 Z M1939,1222 L1939,1239"/>
<path fill="#fff" d="M1511,1737.3 L1531.6,1718 L1727.5,1640.5 L1713.8,1656.4 L1713.8,1700.9 L1679.7,1856.9 L1513.4,1925.2 Z"/>
<path class="n" d="M1511,1738.5 Q1510,1735 1513,1733 L1530,1717 L1725,1640 Q1729,1639 1728,1643 L1713.8,1656.4 L1513,1738.5"/>
<path class="n" d="M1531.6,1719.5 L1713.5,1657 M1530,1717 L1531.6,1719.5"/>
<path class="n" d="M1713.8,1656.4 L1713.8,1700.9 L1680.5,1855 Q1679,1858 1676,1859.5 L1620,1883.2"/>
<path class="n" d="M 1511.4,1737.2 L 1511.4,1773.5 Q 1511.4,1778.1 1515.5,1777.6 L 1595.2,1744.5 Q 1599.9,1743.5 1599.9,1749.7 Q 1599.4,1755.4 1595.2,1756.4 L 1515.5,1788.0 Q 1510.9,1789.5 1510.9,1795.2 L 1510.9,1863.5 Q 1511.4,1867.7 1515.5,1867.2 L 1595.2,1834.0 Q 1599.9,1833.0 1599.9,1838.7 Q 1599.4,1843.9 1595.2,1844.9 L 1515.5,1877.0 Q 1510.9,1878.6 1510.9,1884.2 L 1510.9,1925.7 Q 1511.4,1929.8 1515.5,1929.3 L 1620.0,1883.2"/>
<path class="n" d="M 1512.9,1737.8 L 1512.9,1775.5"/>
<path class="n" d="M 1512.9,1796.3 L 1512.9,1864.6"/>
<path class="n" d="M 1512.9,1885.3 L 1512.9,1926.7"/>
<path class="nt" d="M 1594.7,1754.8 L 1515.5,1786.4"/>
<path class="nt" d="M 1594.7,1843.4 L 1515.5,1875.4"/>
<path class="nt" d="M 1597.3,1745.5 Q 1602.0,1748.6 1596.3,1755.9"/>
<path class="nt" d="M 1597.3,1835.1 Q 1602.0,1838.2 1596.3,1844.4"/>
<ellipse class="n" cx="1680.4" cy="1761.2" rx="2.3" ry="4.2"/>
<path class="n" d="M1450,1691 L1477,1699 M1447,1698 L1477,1706"/>
<ellipse class="n" cx="1478" cy="1702.5" rx="2.5" ry="4"/>
<path class="n" d="M1441,1689 L1447,1686 L1452,1689 L1452,1698 L1447,1701 L1441,1698 Z M1445,1690 Q1443,1694 1445,1699"/>
<ellipse class="n" cx="1499" cy="1708.5" rx="7.5" ry="8" style="fill:#fff"/><ellipse class="n" cx="1500.5" cy="1708.5" rx="3.5" ry="5"/>
<path class="n" d="M1506,1711 L1531,1719"/>
<ellipse class="n" cx="1785" cy="1791" rx="7" ry="8" style="fill:#fff"/><ellipse class="n" cx="1786.5" cy="1791" rx="3.5" ry="5"/>
<path class="n" d="M1778,1787 L1781,1783 L1788,1783 M1778,1795 L1781,1799 L1788,1799"/>
<path fill="#fff" d="M1442.1,2030.5 L1637.3,1978.3 L1738.2,2020.6 L1839.1,2082.5 L1859.3,2112.1 L1859.3,2126.9 L1823.0,2160.5 L1622.4,2217.1 L1518.8,2225.1 L1500.0,2222.4 L1380.2,2160.5 L1382.9,2116.1 Z"/>
<path class="k" d="M 1380.2,2160.5 L 1380.2,2126.9 Q 1380.2,2117.5 1386.9,2113.4 L 1440.8,2032.7 Q 1444.8,2028.6 1450.2,2030.5"/>
<path class="k" d="M 1450.2,2030.5 L 1535.0,2069.0 Q 1545.7,2073.1 1556.5,2071.7 L 1731.5,2020.6 Q 1736.9,2020.6 1739.5,2022.4 L 1836.4,2081.1 Q 1844.5,2086.5 1848.6,2100.0 L 1856.6,2110.7 Q 1859.9,2116.1 1859.3,2126.9 L 1825.7,2159.2"/>
<path class="k" d="M 1380.2,2160.5 L 1500.0,2222.4 Q 1505.4,2225.7 1518.8,2225.1 L 1611.7,2219.8 Q 1617.1,2219.8 1621.1,2217.6 L 1817.6,2160.5 Q 1823.0,2160.5 1825.7,2159.2"/>
<path class="k" d="M 1443.4,2035.4 L 1535.0,2073.1 Q 1545.7,2077.1 1556.5,2075.7 L 1735.5,2023.5"/>
<path class="k" d="M 1448.8,2034.0 L 1448.8,2030.5"/>
<path class="k" d="M 1382.9,2116.1 Q 1389.6,2116.1 1392.3,2118.8 L 1498.6,2190.1 Q 1504.0,2194.2 1505.4,2196.9"/>
<path class="k" d="M 1381.5,2132.3 L 1385.6,2130.9 L 1497.3,2195.5"/>
<path class="k" d="M 1389.6,2118.8 L 1440.8,2038.1"/>
<path class="k" d="M 1380.2,2135.0 L 1383.7,2133.6 L 1383.7,2160.5"/>
<path class="k" d="M 1500.0,2196.9 Q 1498.6,2202.3 1497.8,2213.0 L 1497.8,2222.4"/>
<path class="k" d="M 1497.8,2211.7 Q 1505.4,2210.3 1518.8,2211.7 L 1518.8,2225.1"/>
<path class="k" d="M 1518.8,2211.7 L 1505.4,2194.2"/>
<path class="k" d="M 1505.4,2194.2 L 1530.9,2172.7 Q 1537.7,2167.3 1548.4,2171.3 L 1617.1,2191.5"/>
<path class="k" d="M 1518.8,2211.7 L 1545.7,2188.8 L 1614.4,2209.0"/>
<path class="k" d="M 1530.9,2172.7 Q 1537.7,2180.7 1545.7,2188.8"/>
<path class="k" d="M 1545.7,2188.8 Q 1551.1,2180.7 1549.8,2170.0 L 1553.8,2075.7"/>
<path class="k" d="M 1532.3,2168.6 L 1535.0,2075.7"/>
<path class="k" d="M 1615.7,2191.5 Q 1613.0,2202.3 1611.7,2219.8"/>
<path class="k" d="M 1617.1,2191.5 Q 1620.6,2202.3 1621.1,2217.6"/>
<path class="k" d="M 1617.1,2191.5 L 1812.2,2136.3 Q 1817.6,2135.0 1819.0,2139.0"/>
<path class="k" d="M 1622.4,2207.6 L 1817.6,2152.5"/>
<path class="k" d="M 1812.2,2136.3 Q 1817.6,2145.7 1817.6,2160.5"/>
<path class="k" d="M 1819.0,2139.0 Q 1823.0,2148.4 1823.0,2160.5"/>
<path class="k" d="M 1814.9,2135.0 L 1839.1,2083.8"/>
<path class="k" d="M 1824.3,2151.1 L 1848.6,2102.7"/>
<path class="k" d="M 1848.6,2100.0 L 1841.8,2087.9"/>
<path class="k" d="M 1856.6,2113.4 L 1856.6,2126.9"/>
<path class="k" d="M 1447.5,2031.3 L 1471.7,2021.4 L 1473.1,2024.6 L 1478.4,2023.3 L 1478.4,2046.1"/>
<path class="k" d="M 1448.8,2034.0 L 1473.1,2024.6"/>
<path class="k" d="M 1451.5,2032.7 L 1451.5,2035.4"/>
<path class="k" d="M 1592.8,2056.9 L 1592.8,1985.6 L 1618.4,1979.4 L 1625.1,1980.2 L 1625.1,2050.2"/>
<path class="k" d="M 1594.2,1986.9 L 1619.8,1981.0"/>
<path class="k" d="M 1596.9,1986.1 L 1596.9,2056.9"/>
<path class="k" d="M 1599.6,1988.3 L 1599.6,2057.4"/>
<path class="k" d="M 1625.1,1980.2 L 1637.3,1978.3 L 1731.5,2016.5 Q 1738.2,2020.6 1734.2,2023.3"/>
<path class="k" d="M 1626.5,1982.9 L 1638.6,1982.9 L 1720.7,2017.9 Q 1723.4,2020.6 1722.0,2024.1 L 1627.8,2050.2"/>
<path class="k" d="M 1627.8,1986.9 L 1673.6,2036.7"/>
<path class="k" d="M 1664.2,2005.8 L 1695.1,2030.0"/>
<path class="k" d="M 1637.3,2047.5 Q 1642.6,2025.9 1658.8,2023.3 Q 1672.2,2024.6 1674.9,2035.4"/>
<path class="k" d="M 1680.3,2032.7 Q 1685.7,2028.6 1693.8,2030.5"/>
<path fill="#fff" d="M1639.5,403.5 L1702.4,403.5 L1702.4,609.7 L1709.1,609.7 L1709.1,695.4 L1695.4,695.4 L1695.4,807.2 L1681.7,807.2 L1681.7,822.1 L1660.1,822.1 L1660.1,807.2 L1647.5,807.2 L1647.5,695.4 L1632.8,695.4 L1632.8,609.7 L1639.5,609.7 Z"/>
<path class="k" d="M 1661.1,395.3 L 1661.1,391.1 L 1663.1,389.3 L 1679.3,389.3 L 1681.0,391.1 L 1681.0,395.3"/>
<path class="k" d="M 1666.8,389.3 L 1666.8,395.3 M 1675.5,389.3 L 1675.5,395.3"/>
<path class="k" d="M 1643.2,401.0 L 1643.2,397.3 L 1645.7,395.3 L 1696.6,395.3 L 1698.4,397.3 L 1698.4,401.0 Z"/>
<path class="k" d="M 1644.5,399.3 L 1697.1,399.3 M 1644.5,398.0 L 1697.1,398.0"/>
<path class="k" d="M 1639.5,461.9 L 1639.5,403.5 L 1702.4,403.5 L 1702.4,468.1"/>
<path class="k" d="M 1639.5,461.9 Q 1649.4,459.4 1666.8,464.3 Q 1684.2,470.6 1702.4,468.1"/>
<path class="k" d="M 1639.5,470.6 Q 1649.4,466.8 1666.8,471.8 Q 1679.3,476.8 1689.2,479.3 L 1702.4,475.5"/>
<path class="k" d="M 1639.5,470.6 L 1639.5,609.7 M 1702.4,475.5 L 1702.4,609.7"/>
<path class="k" d="M 1632.8,609.7 L 1709.1,609.7 L 1709.1,694.2 Q 1709.1,695.9 1706.6,695.9 L 1635.3,695.9 Q 1632.8,695.9 1632.8,694.2 Z"/>
<path class="k" d="M 1634.0,692.9 L 1707.8,692.9"/>
<path class="k" d="M 1665.6,695.4 L 1665.6,686.7 L 1676.3,686.7 L 1676.3,695.4"/>
<path class="k" d="M 1666.8,688.0 L 1675.0,688.0"/>
<path class="k" d="M1646.1,696.4 L1646.1,747 Q1646.2,749.5 1648,749.5 L1694,749.5 Q1695.8,749 1695.8,747 L1695.8,696.4"/>
<path class="k" d="M1647.5,751.1 L1694.5,751.1 M1647.5,747.8 L1694.5,747.8"/>
<path class="k" d="M1646.9,751.1 L1646.9,782 Q1647,784.2 1649.5,784.2 L1692,784.2 Q1694.5,784 1694.5,782 L1694.5,779.7 M1694.5,756.9 L1694.5,751.1"/>
<path class="k" d="M1647.5,782.5 L1694,782.5"/>
<path class="k" d="M1660.2,784.2 L1660.2,797 Q1660.2,797.5 1661,797.5 L1681,797.5 Q1681.7,797.5 1681.7,797 L1681.7,784.2"/>
<path class="k" d="M1693,757.5 L1707,756.9 Q1708.6,757 1708.6,759 L1708.6,778 Q1708.6,779.7 1707,779.7 L1694,779.7 Q1691.6,776 1691.6,768 Q1691.6,760 1693,757.5 Z M1692,762.3 L1708.5,762.3 M1692,774.3 L1708.5,774.3"/>
<path class="k" d="M1697,766 L1701,766 L1701,764 L1704,768 L1701,772 L1701,770 L1697,770 Z"/>
<path class="k" d="M1709.4,759 L1709.4,777 M1711.9,758 L1711.9,778"/>
<path class="k" d="M1711.9,760.2 L1722.5,760.2 Q1723.9,760.5 1723.9,762 L1723.9,775 Q1723.9,776.4 1722.5,776.4 L1711.9,776.4"/>
<path fill="#fff" d="M1982,1876 L2047,1758 L2178,1700 L2220,1860 L2212,2104 L2129,2152 L1988,2123 Z"/>
<path class="n" d="M1988.6,1892.8 L1989.5,2118 Q1990,2124 1997,2126 L2124,2152 Q2130,2153.5 2136,2152 L2208,2108 Q2212,2105 2212,2100 L2214,1873"/>
<path class="n" d="M1996.5,1893 L1998,2120 M1998,2124 L2121,2150"/>
<path class="n" d="M2120.2,1917 L2119.5,2150 M2140,1917 L2139.5,2150 M2141,2148 L2209,2104"/>
<path class="n" d="M2208,1870 L2206.5,2103"/>
<path class="n" d="M1987,1875.4 Q1982,1877 1982.5,1882 L1982.5,1887 Q1983,1891 1987,1892 L2124,1918 Q2131,1919.5 2137,1917.5 L2215,1872 Q2220,1869 2220,1864 L2220,1862 Q2220,1857 2214,1857 M1987,1875.4 L1991,1874"/>
<path class="n" d="M1984,1882 L2125,1910 Q2132,1911.5 2138,1909 L2219,1862"/>
<path class="n" d="M1986,1888 L2125,1914 Q2132,1915 2138,1913 L2219,1867"/>
<path class="n" d="M2120.5,1910.5 L2120.5,1917.5 M2140,1909.5 L2140,1916.5 M1991,1876 L1991,1891"/>
<path class="n" d="M1990.5,1876.0 L1990.5,1811.7 Q1990.5,1794.2 2006.0,1787.5 L2048.4,1757.2"/>
<path class="n" d="M1999.9,1877.0 L1999.9,1811.7 Q2000.6,1796.9 2011.3,1794.2 L2047.7,1775.4"/>
<path class="n" d="M1991.2,1811.7 Q1992.5,1815.1 1999.9,1815.1 L2116.3,1838.0 Q2128.4,1840.6 2141.9,1834.6 L2211.9,1792.9"/>
<path class="n" d="M2007.3,1794.2 L2039.6,1800.3 M2084.0,1809.7 L2117.0,1815.7 Q2128.4,1813.1 2136.5,1811.7 L2210.5,1776.7"/>
<path class="n" d="M2211.9,1868.0 L2211.9,1792.9 Q2211.2,1780.8 2203.8,1776.7 L2180.9,1763.3"/>
<path class="n" d="M2116.3,1901.9 L2116.3,1838.6 M2141.9,1907.9 L2141.9,1834.6"/>
<path class="n" d="M2110.9,1835.9 Q2115.0,1818.4 2128.4,1814.4 Q2144.6,1815.7 2148.6,1827.9"/>
<path class="n" d="M2116.3,1838.6 Q2116.3,1821.1 2129.8,1817.1 Q2140.5,1818.4 2141.9,1834.6"/>
<path class="n" d="M2048.4,1757.2 Q2039.6,1763.3 2045.0,1771.3 Q2055.8,1780.8 2086.7,1786.1 Q2140.5,1787.5 2182.3,1773.4 Q2190.3,1767.3 2176.9,1756.5"/>
<path class="n" d="M2053.1,1757.9 Q2050.4,1763.3 2058.4,1767.3 Q2082.7,1771.3 2123.0,1772.7 Q2163.4,1770.0 2180.9,1763.3"/>
<path class="n" d="M2113.6,1770.7 L2116.3,1813.1 M2128.4,1773.4 Q2131.1,1796.9 2140.5,1811.7 M2080.0,1770.0 L2081.3,1780.8"/>
<path class="n" d="M2057.8,1819.8 L2057.8,1889.9"/>
<path class="n" d="M2043.0,1827.2 L2071.9,1832.6 Q2073.3,1833.9 2071.2,1834.3 L2043.6,1829.2 Q2042.3,1827.9 2043.0,1827.2"/>
<rect x="2077.5" y="1834" width="3.5" height="3.5" fill="#1d1d55"/>
<ellipse class="n" cx="2061.8" cy="1796.2" rx="23.5" ry="23" fill="#fff" stroke-width="1.8"/>
<ellipse class="n" cx="2059" cy="1791" rx="9.5" ry="9.5" stroke-width="1.6"/>
<ellipse class="n" cx="2060.5" cy="1794" rx="16" ry="15.5"/>
<ellipse class="n" cx="2061" cy="1795.5" rx="20" ry="19.5"/>
<path class="nk" d="M2068.5,1791.0 Q2078.5,1794.6 2084.5,1800.2"/>
<path class="n" d="M2067.2,1795.8 Q2075.3,1802.4 2079.4,1811.0"/>
<path class="nk" d="M2063.8,1799.2 Q2068.7,1807.5 2069.7,1817.8"/>
<path class="n" d="M2059.0,1800.5 Q2060.4,1808.7 2057.8,1818.9"/>
<path class="nk" d="M2054.2,1799.2 Q2052.6,1805.5 2047.0,1813.8"/>
<path class="n" d="M2050.8,1795.8 Q2047.5,1798.9 2040.2,1804.1"/>
<path class="nk" d="M2049.5,1791.0 Q2046.3,1790.6 2039.1,1792.2"/>
<path class="n" d="M2050.8,1786.2 Q2049.5,1782.8 2044.2,1781.4"/>
<path class="nk" d="M2054.2,1782.8 Q2056.1,1777.7 2053.9,1774.6"/>
<path class="n" d="M2059.0,1781.5 Q2064.4,1776.5 2065.8,1773.5"/>
<path class="nk" d="M2063.8,1782.8 Q2072.2,1779.7 2076.6,1778.6"/>
<path class="n" d="M2067.2,1786.2 Q2077.3,1786.3 2083.4,1788.3"/>
<path fill="#fff" d="M2010.0,1693.5 L2048.5,1668.6 L2176.5,1666.1 L2225.5,1671.1 L2225.5,1673.6 L2175.2,1705.9 L2175.2,1737.0 L2136.7,1759.3 L2027.4,1739.4 Z"/>
<path class="n" d="M 2010.0,1694.1 L 2133.0,1719.6 Q 2140.4,1720.8 2147.9,1717.7 L 2223.0,1676.7 Q 2226.8,1673.6 2224.3,1669.9 L 2177.1,1660.6"/>
<path class="n" d="M 2010.0,1682.5 L 2047.3,1661.2"/>
<path class="nt" d="M 2027.4,1699.7 L 2133.0,1722.0 Q 2140.4,1723.3 2149.1,1719.6 L 2224.9,1674.8"/>
<path class="n" d="M 2048.5,1650.0 L 2048.5,1676.1 Q 2059.7,1689.8 2111.9,1689.8 Q 2164.0,1689.8 2176.5,1676.1 L 2176.5,1650.0"/>
<path class="n" d="M 2027.4,1686.0 Q 2035.5,1689.1 2043.5,1686.0 Q 2035.5,1682.9 2027.4,1686.0"/>
<path class="n" d="M 2029.9,1686.0 L 2029.9,1679.8 Q 2035.5,1676.7 2041.1,1679.8 L 2041.1,1686.0 M 2029.9,1680.4 Q 2035.5,1682.9 2041.1,1680.4"/>
<path class="n" d="M 2182.0,1672.4 Q 2190.1,1675.5 2198.2,1672.4 Q 2190.1,1669.3 2182.0,1672.4"/>
<path class="n" d="M 2184.5,1672.4 L 2184.5,1666.1 Q 2190.1,1663.0 2195.7,1666.1 L 2195.7,1672.4 M 2184.5,1666.8 Q 2190.1,1669.3 2195.7,1666.8"/>
<path class="n" d="M 2124.9,1705.9 Q 2133.0,1709.0 2141.1,1705.9 Q 2133.0,1702.8 2124.9,1705.9"/>
<path class="n" d="M 2127.4,1705.9 L 2127.4,1699.7 Q 2133.0,1696.6 2138.6,1699.7 L 2138.6,1705.9 M 2127.4,1700.3 Q 2133.0,1702.8 2138.6,1700.3"/>
<path class="n" d="M 2027.4,1699.7 L 2027.4,1738.2 L 2133.0,1758.7 L 2133.0,1722.0"/>
<path class="n" d="M 2029.9,1700.9 L 2029.9,1738.8 M 2131.1,1722.0 L 2131.1,1758.1"/>
<path class="n" d="M 2134.2,1722.0 L 2136.7,1758.7 L 2175.2,1737.0 L 2175.2,1705.9"/>
<path class="n" d="M 2029.9,1739.4 L 2029.9,1748.1 L 2064.7,1755.6 L 2064.0,1751.9 L 2030.5,1745.0"/>
<path class="n" d="M 2100.7,1759.9 L 2100.7,1762.4 L 2133.0,1769.3 L 2155.3,1759.3 L 2154.7,1755.6"/>
<path class="n" d="M 2133.0,1766.8 L 2136.7,1766.8 L 2136.7,1758.7"/>
<path class="n" d="M 2031.7,1753.1 L 2039.2,1753.1 L 2039.8,1755.6 L 2038.6,1757.5 L 2032.4,1757.5 L 2031.1,1755.6 Z"/>
<path class="n" d="M 2129.3,1771.1 L 2136.7,1771.1 L 2137.3,1773.6 L 2136.1,1775.5 L 2129.9,1775.5 L 2128.6,1773.6 Z"/>
<path class="n" d="M 2187.6,1738.8 L 2195.1,1738.8 L 2195.7,1741.3 L 2194.5,1743.2 L 2188.3,1743.2 L 2187.0,1741.3 Z"/>
<path class="n" d="M 2036.7,1722.0 A 2.7,3.1 0 1 0 2042.2,1722.0 A 2.7,3.1 0 1 0 2036.7,1722.0"/>
<path class="n" d="M 2069.3,1728.9 A 4.1,4.7 0 1 0 2077.5,1728.9 A 4.1,4.7 0 1 0 2069.3,1728.9"/>
<path class="n" d="M 2087.4,1732.6 A 5.2,6.0 0 1 0 2097.8,1732.6 A 5.2,6.0 0 1 0 2087.4,1732.6"/>
<path class="n" d="M 2110.9,1737.0 A 4.1,4.7 0 1 0 2119.1,1737.0 A 4.1,4.7 0 1 0 2110.9,1737.0"/>
<path class="n" d="M 2045.4,1724.5 A 10,11.5 0 1 0 2065.3,1725.8 A 10,11.5 0 1 0 2045.4,1724.5"/>
<path class="n" d="M 2047.9,1725.2 A 8,9.5 0 1 0 2063.4,1726.0 A 8,9.5 0 1 0 2047.9,1725.2"/>
<path class="n" d="M 2052.9,1723.3 L 2056.0,1720.8 L 2059.7,1722.7 L 2059.7,1727.0 L 2056.6,1729.5 L 2052.9,1727.6 Z"/>
<path class="n" d="M 2146.6,1729.5 L 2150.4,1720.8 L 2157.8,1719.6 L 2162.8,1725.8 L 2162.8,1739.4 L 2157.8,1745.7 L 2150.4,1744.4 L 2146.0,1737.0 Z"/>
<path class="n" d="M 2150.4,1720.8 L 2152.9,1729.5 L 2162.8,1728.3 M 2152.9,1729.5 L 2150.4,1744.4"/>
<path class="n" d="M 2155.3,1723.3 Q 2165.3,1724.5 2164.0,1737.0 Q 2162.8,1744.4 2155.3,1744.4"/>
<path class="n" d="M 2160.9,1728.3 L 2176.5,1730.7 M 2160.9,1738.2 L 2175.2,1741.9"/>
<path class="n" d="M 2176.5,1730.7 A 4.2,7.5 0 1 1 2175.2,1741.9"/>
<path class="nt" d="M 2167.8,1717.1 Q 2171.5,1719.6 2170.2,1728.3 Q 2168.4,1719.6 2167.8,1717.1"/>
<path class="n" d="M 2186.4,1709.6 L 2188.9,1707.1 L 2198.8,1706.5 L 2201.3,1709.6 L 2201.3,1729.5 L 2196.3,1732.6 L 2188.9,1732.0 L 2186.4,1728.3 Z"/>
<path class="n" d="M 2195.1,1708.4 A 7,12 0 1 1 2193.9,1732.0"/>
<path class="n" d="M 2200.1,1712.1 A 5,9 0 1 1 2199.4,1729.5"/>
<path class="n" d="M 2196.3,1691.0 L 2213.7,1688.5 Q 2221.2,1689.8 2219.9,1698.4 Q 2218.7,1707.1 2211.2,1708.4 L 2198.8,1709.6"/>
<path class="n" d="M 2212.5,1689.8 A 6,9.5 0 1 1 2211.9,1707.1"/>
<path class="nk" d="M 2198.8,1698.4 A 4,6 0 1 1 2200.1,1708.4"/>
<path class="n" d="M2203,1716 Q2204,1720 2205,1721 L2237,1769.5"/>
<path class="n" d="M2211,1700 L2212.5,1711.4 Q2213,1718 2216.4,1721.9 L2243.8,1764.4"/>
<path class="n" d="M2209.5,1726.5 L2216.4,1721.9 M2237,1769.5 L2244,1764.5"/>
<circle class="n" cx="2247.5" cy="1778" r="14.7" style="fill:#fff"/>
<path class="n" d="M 2176.5,1737.0 L 2176.5,1745.7 L 2196.3,1734.5 L 2195.7,1730.7"/>
<path fill="#fff" d="M2048.2,1428 Q2048,1400 2113,1399.5 Q2178,1400 2178.1,1428 L2178.1,1673 Q2150,1690 2113,1690 Q2075,1690 2048.2,1673 Z"/>
<path class="n" d="M2048.2,1432 Q2050,1402 2113,1399.5 Q2176,1402 2178.1,1432 L2178.1,1667"/>
<path class="n" d="M2048.2,1432 L2048.2,1660"/>
<path class="n" d="M2048.2,1432 Q2060,1451 2113,1451.5 Q2166,1451 2178.1,1432"/>
<ellipse class="n" cx="2112.8" cy="1416.9" rx="52.8" ry="18.3"/>
<path class="n" d="M2048.2,1660 L2049.5,1670 Q2065,1690 2113,1690.2 Q2161,1690 2176.5,1670 L2178.1,1660"/>
<path class="n" d="M2049.5,1673 L2050,1680 M2176.5,1673 L2176,1680"/>
<path class="n" d="M2048,1524 L2022,1514 L2022,1644 L2048,1632"/>
<path class="n" d="M2022,1514 L2027,1512 L2048,1521 M2027,1512 L2027,1644"/>
<path class="n" d="M2032,1540 L2037,1535 L2043,1537 L2044,1545 L2039,1550 L2033,1548 Z"/>
<ellipse class="n" cx="2040" cy="1621" rx="6" ry="7"/><ellipse class="n" cx="2041.5" cy="1621" rx="3.5" ry="4.5"/>
<path class="n" d="M2033,1498 L2058,1496 Q2063,1503 2061,1512 L2037,1517"/>
<ellipse class="n" cx="2035.5" cy="1507.5" rx="6" ry="9.5" fill="#fff"/>
<path class="n" d="M2139,1509 L2152,1505 L2165,1523 L2154,1530"/>
<ellipse class="n" cx="2157" cy="1519" rx="7" ry="10" transform="rotate(-20 2157 1519)" fill="#fff"/>
<g transform="translate(845.7,1660.9) rotate(-23)"><path class="n" d="M0,-9.5 L14,-9.5 L14,9.5 L0,9.5 M3,-9.5 L3,9.5" style="fill:#fff"/><path class="n" d="M0,-4 L14,-4 M0,4 L14,4"/><path class="n" d="M14,-10 L22,-10 L22,10 L14,10 Z M17,-10 L17,10" style="fill:#fff"/><path class="n" d="M22,-6.5 L30,-6.5 Q34,-6 34,0 Q34,6 30,6.5 L22,6.5"/><ellipse class="n" cx="0" cy="0" rx="4.5" ry="9.5" style="fill:#fff"/><ellipse class="n" cx="0.5" cy="0" rx="2.8" ry="5.2"/><ellipse class="n" cx="0.5" cy="0" rx="1.6" ry="3.2"/></g>
<path class="n" d="M 877.4,1638.5 L 883.1,1629.7 L 889.3,1627.5 L 899.0,1630.6 L 905.6,1645.1 L 902.9,1653.4 L 893.7,1657.8 L 884.0,1655.2 L 877.4,1641.1 Z"/>
<path class="n" d="M 883.1,1629.7 L 896.3,1633.2 L 899.0,1630.6 M 896.3,1633.2 L 903.4,1646.4 L 905.6,1645.1 M 903.4,1646.4 L 896.3,1657.0"/>
<ellipse class="n" cx="889.5" cy="1643.0" rx="5.5" ry="8.0" />
<ellipse class="n" cx="888.7" cy="1643.0" rx="4.0" ry="7.0" />
<path class="n" d="M 875.2,1649.5 L 894.6,1642.4"/>
<path class="n" d="M 904.2,1637.6 L 932.8,1626.2"/>
<path class="n" d="M 888.1,1891.6 L 893.7,1881.6 L 904.8,1877.3 L 909.8,1879.8 L 909.8,1904.6 L 895.5,1902.1 Z"/>
<path class="n" d="M 893.7,1881.6 L 895.5,1885.3 L 907.3,1887.2 M 895.5,1885.3 L 889.9,1894.0 L 895.5,1902.1 M 895.5,1895.9 L 904.8,1897.8"/>
<path class="n" d="M909,1877 Q916,1875 921,1885 L918,1887 Q914,1881 909,1882 Z"/>
<path d="M909,1877 Q916,1875 921,1885 L918,1887 Q914,1881 909,1882 Z" fill="#1d1d55"/>
<ellipse class="n" cx="917.5" cy="1897.0" rx="10.5" ry="12.5" style="fill:#fff"/>
<ellipse class="n" cx="922.5" cy="1897.5" rx="7.5" ry="11.5" style="fill:#fff"/>
<ellipse class="n" cx="923.0" cy="1897.5" rx="2.5" ry="3.8" />
<g transform="translate(961,1866.5) rotate(-21)"><path class="n" d="M34,-6 Q38,-6 38,0 Q38,6 34,6 Z" style="fill:#1d1d55"/><path class="n" d="M24,-10 L34,-10 L34,10 L24,10 Z M28,-10 L28,10 M24,-4 L34,-4" style="fill:#fff"/><path class="n" d="M12,-8 L24,-8 L24,8 L12,8 Z" style="fill:#fff"/><path class="n" d="M0,-12.5 L12,-12.5 L14,-9 L14,9 L12,12.5 L0,12.5 M0,-5 L13,-5 M0,5 L13,5" style="fill:#fff"/><path class="n" d="M-1,-12.5 L5,-12 L9,-4 L9,5 L5,12.5 L-3,12 L-7,4 L-7,-5 Z" style="fill:#fff"/><ellipse class="n" cx="1" cy="0" rx="5" ry="8"/><ellipse class="n" cx="2" cy="0" rx="3" ry="6"/></g>
<path class="n" d="M 922.2,1882.9 L 950.8,1870.4"/>
<path class="n" d="M 936.5,1902.1 L 967.0,1910.8"/>
<g transform="translate(972,1913) rotate(16)"><path class="n" d="M3,-7 Q-4,-7 -4,0 Q-4,7 3,7" style="fill:#fff"/><path class="n" d="M3,-11 L52,-11 L56,-5 L56,6 L52,12 L3,12 L0,6 L0,-5 Z M3,-11 L3,12 M0,-5 L54,-5 M0,6 L54,6" style="fill:#fff"/><ellipse class="n" cx="53" cy="0.5" rx="4.5" ry="10"/><path class="nk" d="M45,2 L22,2 M22,2 L28,-2 M22,2 L28,6"/></g>
<ellipse class="n" cx="1041.8" cy="1970.8" rx="8.0" ry="11.0" style="fill:#fff"/>
<ellipse class="n" cx="1042.6" cy="1970.8" rx="6.8" ry="9.8" />
<ellipse class="n" cx="1041.8" cy="1970.8" rx="2.8" ry="4.5" />
<path class="n" d="M1053,1961 L1056,1957 L1063,1957 L1066,1962 L1066,1969 L1063,1973 L1056,1973 L1053,1969 Z"/>
<ellipse class="n" cx="1059.5" cy="1965.0" rx="5.0" ry="7.0" />
<ellipse class="n" cx="1060.0" cy="1965.0" rx="2.5" ry="4.0" />
<ellipse class="n" cx="1102.2" cy="1987.9" rx="8.0" ry="11.0" style="fill:#fff"/>
<ellipse class="n" cx="1103.0" cy="1987.9" rx="6.8" ry="9.8" />
<ellipse class="n" cx="1102.2" cy="1987.9" rx="2.8" ry="4.5" />
<path class="n" d="M1112.8,1978.2 L1115.8,1974.2 L1122.8,1974.2 L1125.8,1979.2 L1125.8,1986.2 L1122.8,1990.2 L1115.8,1990.2 L1112.8,1986.2 Z"/>
<ellipse class="n" cx="1119.3" cy="1982.2" rx="5.0" ry="7.0" />
<ellipse class="n" cx="1119.8" cy="1982.2" rx="2.5" ry="4.0" />
<path class="nt" d="M1029.5,1834 L1029.5,1961.7"/>
<path class="d" d="M1089.7,1852 L1089.7,1991 L1096,1991"/>
<path class="n" d="M1028,1974 L1060,1963 M1089,1990 L1118,1982"/>
<path fill="#fff" d="M966.3,405.6 L1069.2,409.4 L1069.2,509.2 L1064.7,526.3 L960.5,522.6 L960.5,426.3 Z"/>
<path class="n" d="M 960.5,426.3 L 966.3,405.6 L 1069.2,409.4 L 1069.2,509.2 L 1064.7,526.3 L 960.5,522.6 Z"/>
<path class="n" d="M 960.5,426.3 L 1062.6,429.4 L 1064.7,526.3 M 1062.6,429.4 L 1069.2,409.4"/>
<path class="n" d="M 962.2,428.4 L 1061.6,431.5 M 967.4,427.4 L 967.4,502.9 L 1062.6,506.0"/>
<path class="n" d="M 962.2,523.6 L 962.2,427.4 M 962.2,520.5 L 1063.2,524.1"/>
<path class="n" d="M 967.4,502.9 L 962.2,521.6"/>
<ellipse class="n" cx="992.2" cy="417.0" rx="17.6" ry="6.2" />
<ellipse class="n" cx="1036.7" cy="418.5" rx="17.6" ry="6.2" />
<ellipse class="n" cx="992.2" cy="512.3" rx="19.7" ry="6.6" />
<ellipse class="n" cx="1036.7" cy="513.7" rx="19.7" ry="6.6" />
<ellipse class="n" cx="993.3" cy="437.7" rx="16.1" ry="16.5" />
<ellipse class="n" cx="1041.3" cy="436.7" rx="12.8" ry="13.1" />
<ellipse class="n" cx="1017.7" cy="456.4" rx="12.8" ry="13.1" />
<ellipse class="n" cx="993.3" cy="480.2" rx="12.8" ry="13.1" />
<ellipse class="n" cx="1041.9" cy="481.2" rx="16.1" ry="16.5" />
<ellipse class="n" cx="1017.7" cy="438.3" rx="3.5" ry="3.6" />
<ellipse class="n" cx="998.4" cy="456.4" rx="3.3" ry="3.4" />
<ellipse class="n" cx="1036.7" cy="457.4" rx="3.3" ry="3.4" />
<ellipse class="n" cx="1017.7" cy="488.4" rx="3.3" ry="3.4" />
<ellipse class="n" cx="1017.7" cy="475.0" rx="2.1" ry="2.1" />
<ellipse class="n" cx="1056.0" cy="435.0" rx="2.1" ry="2.1" />
<ellipse class="n" cx="968.0" cy="514.9" rx="2.1" ry="2.1" />
<path class="n" d="M 1051.2,430.5 L 1051.2,438.8 L 1061.6,440.4"/>
<path class="n" d="M 962.2,510.2 L 971.5,511.2 L 971.5,521.2"/>
<path class="n" d="M 965.3,432.5 Q 961.8,449.1 965.3,465.7"/>
<path class="n" d="M 1066.7,432.5 Q 1069.9,449.1 1066.7,465.7"/>
<path class="n" d="M 965.3,467.7 Q 961.8,484.3 965.3,500.9"/>
<path class="n" d="M 1066.7,467.7 Q 1069.9,484.3 1066.7,500.9"/>
<path class="n" d="M 995.3,464.6 L 987.0,494.7"/>
<path class="n" d="M 1034.7,464.6 L 1026.0,496.7"/>
<path class="n" d="M 1018.1,477.1 L 1008.8,506.0"/>
<path class="n" d="M974.4,555.7 L972.6,557.2 L972.6,559.5 L970.1,559.4 L968.4,561.1 L966.7,559.4 L964.2,559.5 L964.2,557.2 L962.4,555.7 L964.2,554.2 L964.2,551.9 L966.7,552.0 L968.4,550.3 L970.1,552.0 L972.6,551.9 L972.6,554.2 Z"/>
<ellipse class="n" cx="968.4" cy="555.7" rx="2.5" ry="2.5" />
<path class="n" d="M966.4,560.7 L961.2,567.3 M970.4,560.7 L965.2,567.3"/>
<ellipse class="n" cx="963.2" cy="571.3" rx="5.5" ry="5.5" style="fill:#fff"/>
<ellipse class="n" cx="963.2" cy="571.3" rx="4.0" ry="4.0" />
<path class="n" d="M960.2,571.3 L966.2,571.3 M963.2,568.3 L963.2,574.3"/>
<path class="n" d="M1013.1,556.8 L1011.3,558.3 L1011.3,560.6 L1008.8,560.5 L1007.1,562.2 L1005.4,560.5 L1002.9,560.6 L1002.9,558.3 L1001.1,556.8 L1002.9,555.3 L1002.9,553.0 L1005.4,553.1 L1007.1,551.4 L1008.8,553.1 L1011.3,553.0 L1011.3,555.3 Z"/>
<ellipse class="n" cx="1007.1" cy="556.8" rx="2.5" ry="2.5" />
<path class="n" d="M1005.1,561.8 L1000.6,568.3 M1009.1,561.8 L1004.6,568.3"/>
<ellipse class="n" cx="1002.6" cy="572.3" rx="5.5" ry="5.5" style="fill:#fff"/>
<ellipse class="n" cx="1002.6" cy="572.3" rx="4.0" ry="4.0" />
<path class="n" d="M999.6,572.3 L1005.6,572.3 M1002.6,569.3 L1002.6,575.3"/>
<path class="n" d="M 970.5,550.6 L 978.8,520.5"/>
<path class="n" d="M 1008.8,552.6 L 1018.1,521.6"/>
<path class="n" d="M 991.2,563.0 L 1001.1,531.9"/>
<ellipse class="n" cx="981.9" cy="591.0" rx="4.5" ry="4.5" style="fill:#1d1d55"/>
<ellipse class="n" cx="982.5" cy="591.0" rx="2.0" ry="2.0" style="fill:#fff;stroke:#fff"/>
<path class="n" d="M 1036.7,579.5 Q 1040.9,565.1 1057.4,558.8 Q 1069.9,552.6 1078.1,551.6"/>
<path class="n" d="M 1109.2,552.6 Q 1115.4,550.6 1117.5,547.5"/>
<path class="n" d="M 1036.7,580.6 Q 1038.8,576.4 1041.9,579.5"/>
<path class="n" d="M 883.5,345.6 L 888.7,324.9 L 898.0,322.8 L 904.2,320.7 L 914.6,331.1 L 915.6,337.3 L 908.4,360.1 L 895.9,362.2"/>
<path class="n" d="M 888.7,324.9 L 910.4,332.1 L 914.6,331.1 M 910.4,332.1 L 904.2,358.0"/>
<path class="n" d="M 887.7,329.0 L 908.4,336.3"/>
<path class="n" d="M 887.7,334.2 L 908.4,341.4"/>
<path class="n" d="M 887.7,339.4 L 908.4,346.6"/>
<ellipse class="n" cx="892.8" cy="351.8" rx="11.0" ry="11.5" style="fill:#fff"/>
<ellipse class="n" cx="893.5" cy="352.0" rx="7.5" ry="8.5" />
<path class="n" d="M 892.8,350.8 L 881.4,372.5 L 912.5,382.9"/>
<path class="n" d="M 937.3,390.7 L 968.4,400.5"/>
<path class="n" d="M1005.3,333.3 L1008.3,329.3 L1015.3,329.3 L1018.3,334.3 L1017.3,340.3 L1013.3,343.3 L1007.3,342.3 L1005.3,338.3 Z"/>
<ellipse class="n" cx="1011.8" cy="336.3" rx="3.5" ry="4.0" />
<ellipse class="n" cx="1011.8" cy="336.3" rx="1.5" ry="1.5" />
<path class="n" d="M1044.6,334.3 L1047.6,330.3 L1054.6,330.3 L1057.6,335.3 L1056.6,341.3 L1052.6,344.3 L1046.6,343.3 L1044.6,339.3 Z"/>
<ellipse class="n" cx="1051.1" cy="337.3" rx="3.5" ry="4.0" />
<ellipse class="n" cx="1051.1" cy="337.3" rx="1.5" ry="1.5" />
<path class="n" d="M 1011.3,339.4 L 1002.6,365.3 M 1002.6,374.6 L 1002.6,405.6"/>
<path class="n" d="M 1050.6,340.4 L 1041.9,366.3 M 1041.9,375.6 L 1041.9,407.7"/>
<rect x="761" y="704" width="108" height="104.5" rx="16" fill="#fff"/>
<path class="n" d="M776,704.5 L853,707.2 Q869,708 869,724 L868.5,793 Q868.5,809 852,808.5 L777,805.5 Q761,805 761,789 L761,720 Q761,704 776,704.5 Z"/>
<path class="n" d="M777,710 L852,712.7 M777,800 L852,802.5 M767,722 L767,789 M863,725 L863,792"/>
<path class="n" d="M783,714 L852,716.5 M783,797.5 L852,800 M764,725 L764,790 M866,726 L866,793"/>
<ellipse class="n" cx="771.3" cy="713.2" rx="2.8" ry="2.8" />
<path class="n" d="M761.3,724.2 Q780.3,724.2 781.3,704.2"/>
<path class="n" d="M760.3,720.2 Q776.3,720.2 777.3,703.2"/>
<ellipse class="n" cx="858.8" cy="715.7" rx="2.8" ry="2.8" />
<path class="n" d="M868.8,726.7 Q849.8,726.7 848.8,706.7"/>
<path class="n" d="M869.8,722.7 Q853.8,722.7 852.8,705.7"/>
<ellipse class="n" cx="771.3" cy="795.2" rx="2.8" ry="2.8" />
<path class="n" d="M761.3,784.2 Q780.3,784.2 781.3,804.2"/>
<path class="n" d="M760.3,788.2 Q776.3,788.2 777.3,805.2"/>
<ellipse class="n" cx="858.8" cy="798.5" rx="2.8" ry="2.8" />
<path class="n" d="M868.8,787.5 Q849.8,787.5 848.8,807.5"/>
<path class="n" d="M869.8,791.5 Q853.8,791.5 852.8,808.5"/>
<path class="n" d="M805,727.4 L823,727.4 Q832,733.4 832,741.4 Q832,749.4 823,755.4 L805,755.4 Q796,749.4 796,741.4 Q796,733.4 805,727.4 Z"/>
<path class="n" d="M805,764.6 L823,764.6 Q832,770.6 832,778.6 Q832,786.6 823,792.6 L805,792.6 Q796,786.6 796,778.6 Q796,770.6 805,764.6 Z"/>
<ellipse class="n" cx="814.0" cy="720.7" rx="2.0" ry="2.0" />
<ellipse class="n" cx="814.0" cy="760.4" rx="2.0" ry="2.0" />
<ellipse class="n" cx="814.0" cy="800.2" rx="2.0" ry="2.0" />
<path class="n" d="M917.5,586 L917.5,584 Q918,583 920,583 L926,583 Q928,584 928,587 L930,589 L938,589 L940,587 Q940,584 943,583 L949,583 Q951.5,583.5 951.5,586 L951.5,603 L917.5,603 Z"/>
<ellipse class="n" cx="922.5" cy="587.5" rx="2.0" ry="2.0" />
<ellipse class="n" cx="946.5" cy="587.5" rx="2.0" ry="2.0" />
<ellipse class="n" cx="934.0" cy="591.0" rx="2.0" ry="2.0" />
<ellipse class="n" cx="934.0" cy="596.0" rx="2.5" ry="2.0" />
<path class="n" d="M917,603 Q912.5,603 912.5,610 L912.5,664 Q912.5,669 917,669.3 L955,669.3 Q959.8,669 959.8,664 L959.8,610 Q959.8,603 955,603 Z"/>
<path class="n" d="M915.5,606 L915.5,667 M957,606 L957,667 M926,598 L915,606 M944,598 L957,606"/>
<path class="n" d="M918,680 Q917.5,687 922,687.5 L947,687.5 Q951.5,687 951.5,682 L951.5,669.3 L917.5,669.3 Z"/>
<ellipse class="n" cx="922.5" cy="683.0" rx="2.0" ry="2.0" />
<ellipse class="n" cx="946.5" cy="683.0" rx="2.0" ry="2.0" />
<ellipse class="n" cx="934.0" cy="675.0" rx="2.5" ry="2.0" />
<path class="n" d="M925,604.8 L943,604.8 Q950.5,610.8 950.5,618.8 Q950.5,627.8 943,631.8 L925,631.8 Q917.5,627.8 917.5,618.8 Q917.5,610.8 925,604.8 Z"/>
<path class="nk" d="M927,615.8 L927,622.8 M941,615.8 L941,622.8 M932,607.8 L936,607.8 L936,611.8 Q934,613.8 932,611.8 Z"/>
<path class="n" d="M925,641.2 L943,641.2 Q950.5,647.2 950.5,655.2 Q950.5,664.2 943,668.2 L925,668.2 Q917.5,664.2 917.5,655.2 Q917.5,647.2 925,641.2 Z"/>
<path class="nk" d="M927,652.2 L927,659.2 M941,652.2 L941,659.2 M932,644.2 L936,644.2 L936,648.2 Q934,650.2 932,648.2 Z"/>
<ellipse class="n" cx="934.0" cy="637.0" rx="1.8" ry="1.8" />
<path class="n" d="M399.3,323.2 Q423,313 454,329.4 Q480,348 481,420 L481.2,488 Q480,560 473.8,612.7 L471.3,660"/>
<path class="n" d="M409.2,331.9 Q425,325 451.4,344.3 Q468,370 468,420 L468.8,513.3 Q467,580 462.6,637.5 L459.5,660"/>
<path d="M374.4,327 L391.8,320.7 L409.2,328.2 L409.2,343.1 L391.8,351.8 L374.4,341.9 Z" fill="#0b0b35"/>
<path class="n" d="M 471.3,660.0 L 465.1,754.4 Q 457.6,821.5 394.9,843.2"/>
<path class="n" d="M 459.5,660.0 L 452.7,756.9 Q 445.2,815.3 398.0,829.6"/>
<path class="n" d="M 381.9,845.7 Q 317.3,851.3 312.5,779.3 Q 317.3,715.9 378.1,713.4 Q 429.1,718.4 431.3,768.1 Q 431.6,794.2 402.4,808.4"/>
<path class="n" d="M 385.0,833.3 Q 326.0,838.9 324.1,778.0 Q 327.2,725.8 376.9,725.2 Q 417.9,727.1 419.1,766.8 Q 419.1,781.7 404.8,792.9"/>
<path class="n" d="M 404.8,792.9 L 406.7,769.3 Q 405.5,744.5 380.6,744.5 Q 350.8,747.0 350.8,774.3 Q 353.3,811.6 388.1,810.9 L 402.4,808.4"/>
<path class="n" d="M 392.4,798.5 L 393.7,766.8 Q 393.0,756.3 380.6,756.3 Q 362.6,758.1 362.6,774.3 Q 364.5,798.5 386.8,798.5 L 392.4,797.9"/>
<path class="n" d="M 389.3,810.9 L 381.9,845.7 L 366.3,900.0"/>
<path class="n" d="M 402.4,808.4 L 394.9,843.2 L 378.8,900.0"/>
<path class="n" d="M366.3,900 Q357,935 350,966.7 Q320,1060 303,1160 L301.2,1175"/>
<path class="n" d="M378.8,900 Q367,940 360,966.7 Q330,1060 315,1160 L313.6,1177"/>
<path d="M291.9,1177.2 L304.5,1174 L321.7,1181.9 L322,1213.1 L308.7,1219.2 L298.9,1218.7 L291,1215.5 Z" fill="#0b0b35"/>
<path class="nt" d="M294.9,1218 L294.9,1233.5 Q295.5,1235.5 297.3,1236 Q299.2,1235.5 299.8,1233.5 L299.8,1218"/>
<path class="nt" d="M302.2,1219.2 L302.2,1225.7 L308.7,1222.9 L308.5,1219"/>
<path class="nt" d="M312.6,1218.2 L312.6,1232.7 L319.4,1229.9 L319.2,1215.5"/>
<ellipse class="n" cx="315.9" cy="1225.7" rx="1.6" ry="2.2" />
<ellipse class="n" cx="305.5" cy="1219.5" rx="1.4" ry="1.6" />
<ellipse class="k" cx="545.3" cy="337.8" rx="7.5" ry="7.5" style="fill:#fff"/>
<ellipse class="k" cx="545.3" cy="337.8" rx="5.0" ry="5.0" />
<ellipse class="k" cx="674.1" cy="408.2" rx="7.5" ry="7.5" style="fill:#fff"/>
<ellipse class="k" cx="674.1" cy="408.2" rx="5.0" ry="5.0" />
<path class="k" d="M553,344.5 Q568,346 574,351 Q579,358 577.5,368 Q578,378 590,381 Q600,382.5 612,381 L637.6,377.3 Q660,376 667,390 Q670,396 671,400"/>
<path class="k" d="M553,341 Q556,342 557,344 M548,345 Q551,346 553,348 M667,398 Q668,396 666,396 M672,396 Q673,394 675,396"/>
<rect class="k" x="587.5" y="878.5" width="8.5" height="8.5"/>
<path class="k" d="M596,882.7 L670.7,882.7"/>
<path class="k" d="M670.7,877 L680,882.7 L670.7,888.5 Z"/>
<path class="k" d="M 831.7,2262.0 Q 826.8,2265.7 816.8,2265.7 Q 794.5,2264.5 794.5,2243.4 Q 795.7,2222.2 816.8,2221.7 Q 826.8,2222.2 834.2,2227.2 L 869.0,2227.2 L 869.0,2240.9 L 891.4,2240.9"/>
<path class="k" d="M 831.7,2254.5 Q 824.3,2259.5 816.8,2259.5 Q 800.7,2258.3 800.7,2243.4 Q 801.9,2228.4 816.8,2228.0 Q 826.8,2229.7 833.0,2233.4 L 867.8,2233.4"/>
<path class="k" d="M 834.2,2254.5 L 859.1,2254.5 L 859.1,2260.7 L 834.2,2260.7"/>
<path class="k" d="M 844.2,2233.4 L 844.2,2254.5 M 851.6,2233.4 L 851.6,2254.5"/>
<path class="k" d="M 838.0,2228.4 L 838.0,2226.0 L 859.1,2226.0 L 859.1,2228.4"/>
<path class="k" d="M 842.9,2260.7 L 842.9,2264.5 L 852.9,2264.5 L 852.9,2260.7"/>
<path class="k" d="M 869.0,2240.9 L 869.0,2250.8 L 881.4,2263.2 L 908.8,2263.2 Q 917.5,2257.0 916.2,2247.1 Q 912.5,2235.9 901.3,2235.2 Q 895.1,2235.9 891.4,2240.9"/>
<path class="k" d="M914.0,2249.6 L908.5,2259.1 L897.5,2259.1 L892.0,2249.6 L897.5,2240.1 L908.5,2240.1 Z"/>
<ellipse class="k" cx="903.0" cy="2249.6" rx="8.0" ry="8.0" />
<path class="k" d="M 831.7,2344.0 Q 826.8,2347.7 816.8,2347.7 Q 794.5,2346.5 794.5,2325.4 Q 795.7,2304.2 816.8,2303.7 Q 826.8,2304.2 834.2,2309.2 L 869.0,2309.2 L 869.0,2322.9 L 891.4,2322.9"/>
<path class="k" d="M 831.7,2336.5 Q 824.3,2341.5 816.8,2341.5 Q 800.7,2340.3 800.7,2325.4 Q 801.9,2310.4 816.8,2310.0 Q 826.8,2311.7 833.0,2315.4 L 867.8,2315.4"/>
<path class="k" d="M 834.2,2336.5 L 859.1,2336.5 L 859.1,2342.7 L 834.2,2342.7"/>
<path class="k" d="M 844.2,2315.4 L 844.2,2336.5 M 851.6,2315.4 L 851.6,2336.5"/>
<path class="k" d="M 838.0,2310.4 L 838.0,2308.0 L 859.1,2308.0 L 859.1,2310.4"/>
<path class="k" d="M 842.9,2342.7 L 842.9,2346.5 L 852.9,2346.5 L 852.9,2342.7"/>
<path class="k" d="M 869.0,2322.9 L 869.0,2332.8 L 881.4,2345.2 L 908.8,2345.2 Q 917.5,2339.0 916.2,2329.1 Q 912.5,2317.9 901.3,2317.2 Q 895.1,2317.9 891.4,2322.9"/>
<path class="k" d="M914.0,2331.6 L908.5,2341.1 L897.5,2341.1 L892.0,2331.6 L897.5,2322.1 L908.5,2322.1 Z"/>
<ellipse class="k" cx="903.0" cy="2331.6" rx="8.0" ry="8.0" />
<path class="kk" d="M1113.7,2259.5 Q1113,2246 1129.9,2245 Q1146,2246 1146,2262 Q1146,2272 1136,2276.9"/>
<path class="k" d="M1116.5,2259.5 Q1117,2249 1129.9,2248 Q1143,2249 1143,2262 Q1143,2270 1134.5,2274"/>
<path class="k" d="M1113.7,2259.5 L1112.5,2273.2 L1080.2,2273.2 L1080.2,2279.4 L1134.8,2279.4 L1136,2276.9"/>
<path class="k" d="M1116.5,2259.5 L1116,2276 L1081,2276 M1113,2258 L1117,2259"/>
<path class="n" d="M1132.4,778 L1135.4,774 L1141.4,773.5 L1143.4,775 M1132.4,785 L1135.4,789 L1141.4,790.5 M1132.4,778 L1131.9,785 M1135.4,774 L1134.4,789"/>
<ellipse class="n" cx="1139.4" cy="782" rx="6.5" ry="8.5" style="fill:#fff"/>
<ellipse class="n" cx="1139.9" cy="782" rx="3" ry="4.5" />
<ellipse class="n" cx="1189.1" cy="796.9" rx="7.5" ry="11.5" style="fill:#fff"/>
<ellipse class="n" cx="1190.1" cy="796.9" rx="6.5" ry="10.5" />
<ellipse class="n" cx="1189.6" cy="796.4" rx="2.5" ry="4.5" />
<path class="n" d="M1081.9,798.5 L1084.9,794.5 L1090.9,794.0 L1092.9,795.5 M1081.9,805.5 L1084.9,809.5 L1090.9,811.0 M1081.9,798.5 L1081.4,805.5 M1084.9,794.5 L1083.9,809.5"/>
<ellipse class="n" cx="1088.9" cy="802.5" rx="6.5" ry="8.5" style="fill:#fff"/>
<ellipse class="n" cx="1089.4" cy="802.5" rx="3" ry="4.5" />
<ellipse class="n" cx="1138.8" cy="817.4" rx="7.5" ry="11.5" style="fill:#fff"/>
<ellipse class="n" cx="1139.8" cy="817.4" rx="6.5" ry="10.5" />
<ellipse class="n" cx="1139.3" cy="816.9" rx="2.5" ry="4.5" />
<path class="d" d="M1267,997.5 L1743,1134" style="stroke-dashoffset:3.5"/>
<path class="d" d="M1217,1018 L1732.7,1165" style="stroke-dashoffset:20.5"/>
<path class="d" d="M1234.2,1075.5 L1415,1128" style="stroke-dashoffset:16"/>
<path class="d" d="M1832,1158.8 L1940,1190"/>
<path class="nt" d="M1855,1203 L1890,1214"/>
<path class="d" d="M1700,1046 L1799,1005.6"/>
<path class="d" d="M1769,1066 L1865.2,1024.2"/>
<path class="d" d="M979,1514.5 L640,1654"/>
<path class="d" d="M1044,1530.5 L671,1682"/>
<path class="d" d="M1039,1571.5 L598,1744"/>
<path class="d" d="M490,1608 L745,1680"/>
<path class="d" d="M490,1650 L860,1716"/>
<path class="nt" d="M556,1688 L630,1657"/>
<path class="nt" d="M613,1706 L690,1675"/>
<path class="d" d="M594,1964 L778,1886.3"/>
<path class="nt" d="M843.3,1751.2 L876,1761"/>
<path class="nt" d="M1075,1622 L1020,1644"/>
<path class="nt" d="M875,1652 L932.8,1626.2"/>
<path class="d" d="M1184.5,1684.6 L1520,1780"/>
<path class="d" d="M1683,1761.2 L1780,1789"/>
<path class="d" d="M833,656 L916,652.4"/>
<path class="d" d="M827.3,674.3 L819,704.1"/>
<path class="d" d="M869.5,740.5 L901,743.5"/>
<path class="d" d="M925,714.9 L915.9,745.5"/>
<path class="nt" d="M927,682 L925,690"/>
<path class="nt" d="M1151,785.7 L1183,795 M1100,806.5 L1131,815.5"/>
<path class="nt" d="M1188,795.5 L1200.7,800 M1138,816 L1150,820.5"/>
<line class="cl" x1="427.9" y1="581.2" x2="468.8" y2="606.5"/>
<circle class="cg" cx="413" cy="572" r="17.5"/>
<text class="ct" x="413" y="581.6" text-anchor="middle" textLength="22.5" lengthAdjust="spacingAndGlyphs">01</text>
<line class="cl" x1="519.7" y1="305.9" x2="537.1" y2="334.4"/>
<circle class="cg" cx="510.6" cy="291" r="17.5"/>
<text class="ct" x="510.6" y="300.6" text-anchor="middle" textLength="22.5" lengthAdjust="spacingAndGlyphs">02</text>
<line class="cl" x1="710.9" y1="739.3" x2="761" y2="764.6"/>
<circle class="cg" cx="695.3" cy="731.4" r="17.5"/>
<text class="ct" x="695.3" y="741.0" text-anchor="middle" textLength="22.5" lengthAdjust="spacingAndGlyphs">03</text>
<line class="cl" x1="879.7" y1="599.2" x2="914.2" y2="603.9"/>
<circle class="cg" cx="862.4" cy="596.8" r="17.5"/>
<text class="ct" x="862.4" y="606.4" text-anchor="middle" textLength="22.5" lengthAdjust="spacingAndGlyphs">04</text>
<line class="cl" x1="1004.7" y1="612.7" x2="983.9" y2="595"/>
<circle class="cg" cx="1018" cy="624" r="17.5"/>
<text class="ct" x="1018" y="633.6" text-anchor="middle" textLength="22.5" lengthAdjust="spacingAndGlyphs">05</text>
<line class="cl" x1="919.6" y1="551.1" x2="956" y2="567.1"/>
<circle class="cg" cx="903.6" cy="544" r="17.5"/>
<text class="ct" x="903.6" y="553.6" text-anchor="middle" textLength="22.5" lengthAdjust="spacingAndGlyphs">06</text>
<line class="cl" x1="939.8" y1="520.2" x2="963.2" y2="552.6"/>
<circle class="cg" cx="929.5" cy="506" r="17.5"/>
<text class="ct" x="929.5" y="515.6" text-anchor="middle" textLength="22.5" lengthAdjust="spacingAndGlyphs">07</text>
<line class="cl" x1="1073.3" y1="568.1" x2="1038.8" y2="578.5"/>
<circle class="cg" cx="1090" cy="563" r="17.5"/>
<text class="ct" x="1090" y="572.6" text-anchor="middle" textLength="22.5" lengthAdjust="spacingAndGlyphs">08</text>
<line class="cl" x1="1096.7" y1="452.0" x2="1069.9" y2="465.7"/>
<circle class="cg" cx="1112.3" cy="444" r="17.5"/>
<text class="ct" x="1112.3" y="453.6" text-anchor="middle" textLength="22.5" lengthAdjust="spacingAndGlyphs">09</text>
<line class="cl" x1="882.1" y1="297.6" x2="898" y2="321.8"/>
<circle class="cg" cx="872.5" cy="283" r="17.5"/>
<text class="ct" x="872.5" y="292.6" text-anchor="middle" textLength="22.5" lengthAdjust="spacingAndGlyphs">10</text>
<line class="cl" x1="1012.6" y1="300.5" x2="1011.3" y2="335.2"/>
<circle class="cg" cx="1013.3" cy="283" r="17.5"/>
<text class="ct" x="1013.3" y="292.6" text-anchor="middle" textLength="22.5" lengthAdjust="spacingAndGlyphs">11</text>
<line class="cl" x1="615.1" y1="841.5" x2="616.7" y2="876.7"/>
<circle class="cg" cx="614.3" cy="824" r="17.5"/>
<text class="ct" x="614.3" y="833.6" text-anchor="middle" textLength="22.5" lengthAdjust="spacingAndGlyphs">12</text>
<line class="cl" x1="1162.6" y1="746.0" x2="1141.9" y2="775.2"/>
<circle class="cg" cx="1172.7" cy="731.7" r="17.5"/>
<text class="ct" x="1172.7" y="741.3" text-anchor="middle" textLength="22.5" lengthAdjust="spacingAndGlyphs">13</text>
<line class="cl" x1="1218.6" y1="771.4" x2="1195.3" y2="788.8"/>
<circle class="cg" cx="1232.6" cy="760.9" r="17.5"/>
<text class="ct" x="1232.6" y="770.5" text-anchor="middle" textLength="22.5" lengthAdjust="spacingAndGlyphs">14</text>
<line class="cl" x1="533.5" y1="1294.5" x2="562.1" y2="1304.3"/>
<circle class="cg" cx="516.9" cy="1288.8" r="17.5"/>
<text class="ct" x="516.9" y="1298.4" text-anchor="middle" textLength="22.5" lengthAdjust="spacingAndGlyphs">15</text>
<line class="cl" x1="2020.4" y1="1187.7" x2="1989.4" y2="1202.3"/>
<circle class="cg" cx="2036.2" cy="1180.3" r="17.5"/>
<text class="ct" x="2036.2" y="1189.9" text-anchor="middle" textLength="22.5" lengthAdjust="spacingAndGlyphs">16</text>
<line class="cl" x1="1976.4" y1="1150.5" x2="1948" y2="1185.7"/>
<circle class="cg" cx="1987.4" cy="1136.9" r="17.5"/>
<text class="ct" x="1987.4" y="1146.5" text-anchor="middle" textLength="22.5" lengthAdjust="spacingAndGlyphs">14</text>
<line class="cl" x1="593.0" y1="1599.4" x2="613.5" y2="1623.9"/>
<circle class="cg" cx="581.8" cy="1586" r="17.5"/>
<text class="ct" x="581.8" y="1595.6" text-anchor="middle" textLength="22.5" lengthAdjust="spacingAndGlyphs">17</text>
<line class="cl" x1="372.5" y1="1641.0" x2="428.7" y2="1636.3"/>
<circle class="cg" cx="355.1" cy="1642.5" r="17.5"/>
<text class="ct" x="355.1" y="1652.1" text-anchor="middle" textLength="22.5" lengthAdjust="spacingAndGlyphs">16</text>
<line class="cl" x1="400.1" y1="1688.2" x2="473.7" y2="1650.2"/>
<circle class="cg" cx="384.6" cy="1696.2" r="17.5"/>
<text class="ct" x="384.6" y="1705.8" text-anchor="middle" textLength="22.5" lengthAdjust="spacingAndGlyphs">14</text>
<line class="cl" x1="443.9" y1="1757.4" x2="492.4" y2="1718.6"/>
<circle class="cg" cx="430.2" cy="1768.3" r="17.5"/>
<text class="ct" x="430.2" y="1777.9" text-anchor="middle" textLength="22.5" lengthAdjust="spacingAndGlyphs">16</text>
<line class="cl" x1="477.3" y1="1789.9" x2="545.2" y2="1698.4"/>
<circle class="cg" cx="466.9" cy="1804" r="17.5"/>
<text class="ct" x="466.9" y="1813.6" text-anchor="middle" textLength="22.5" lengthAdjust="spacingAndGlyphs">14</text>
<line class="cl" x1="877.6" y1="1690.1" x2="863" y2="1672.4"/>
<circle class="cg" cx="888.8" cy="1703.6" r="17.5"/>
<text class="ct" x="888.8" y="1713.2" text-anchor="middle" textLength="22.5" lengthAdjust="spacingAndGlyphs">18</text>
<line class="cl" x1="920.2" y1="1670.3" x2="904" y2="1650.8"/>
<circle class="cg" cx="931.4" cy="1683.8" r="17.5"/>
<text class="ct" x="931.4" y="1693.4" text-anchor="middle" textLength="22.5" lengthAdjust="spacingAndGlyphs">19</text>
<line class="cl" x1="896.3" y1="1792.2" x2="881.3" y2="1769.2"/>
<circle class="cg" cx="905.9" cy="1806.8" r="17.5"/>
<text class="ct" x="905.9" y="1816.4" text-anchor="middle" textLength="22.5" lengthAdjust="spacingAndGlyphs">13</text>
<line class="cl" x1="1663.0" y1="1029.3" x2="1689.2" y2="1049"/>
<circle class="cg" cx="1649" cy="1018.8" r="17.5"/>
<text class="ct" x="1649" y="1028.4" text-anchor="middle" textLength="22.5" lengthAdjust="spacingAndGlyphs">20</text>
<line class="cl" x1="597.0" y1="2009.4" x2="582.4" y2="1991.9"/>
<circle class="cg" cx="608.2" cy="2022.9" r="17.5"/>
<text class="ct" x="608.2" y="2032.5" text-anchor="middle" textLength="22.5" lengthAdjust="spacingAndGlyphs">20</text>
<line class="cl" x1="806.0" y1="1924.0" x2="806" y2="1906.5"/>
<circle class="cg" cx="806" cy="1941.5" r="17.5"/>
<text class="ct" x="806" y="1951.1" text-anchor="middle" textLength="22.5" lengthAdjust="spacingAndGlyphs">21</text>
<line class="cl" x1="891.1" y1="1931.9" x2="902.9" y2="1904.7"/>
<circle class="cg" cx="884.2" cy="1948" r="17.5"/>
<text class="ct" x="884.2" y="1957.6" text-anchor="middle" textLength="22.5" lengthAdjust="spacingAndGlyphs">22</text>
<line class="cl" x1="977.9" y1="1966.3" x2="1003.1" y2="1934.4"/>
<circle class="cg" cx="967.1" cy="1980" r="17.5"/>
<text class="ct" x="967.1" y="1989.6" text-anchor="middle" textLength="22.5" lengthAdjust="spacingAndGlyphs">23</text>
<line class="cl" x1="1024.4" y1="1877.7" x2="982.6" y2="1867.2"/>
<circle class="cg" cx="1041.4" cy="1882" r="17.5"/>
<text class="ct" x="1041.4" y="1891.6" text-anchor="middle" textLength="22.5" lengthAdjust="spacingAndGlyphs">24</text>
<line class="cl" x1="1078.8" y1="2024.2" x2="1101" y2="1995.8"/>
<circle class="cg" cx="1068" cy="2038" r="17.5"/>
<text class="ct" x="1068" y="2047.6" text-anchor="middle" textLength="22.5" lengthAdjust="spacingAndGlyphs">14</text>
<line class="cl" x1="1122.4" y1="2020.5" x2="1120.4" y2="1987.9"/>
<circle class="cg" cx="1123.4" cy="2038" r="17.5"/>
<text class="ct" x="1123.4" y="2047.6" text-anchor="middle" textLength="22.5" lengthAdjust="spacingAndGlyphs">13</text>
<line class="cl" x1="1371.4" y1="1387.5" x2="1339.8" y2="1398.1"/>
<circle class="cg" cx="1388" cy="1382" r="17.5"/>
<text class="ct" x="1388" y="1391.6" text-anchor="middle" textLength="22.5" lengthAdjust="spacingAndGlyphs">25</text>
<line class="cl" x1="1495.3" y1="1176.2" x2="1480" y2="1158.8"/>
<circle class="cg" cx="1506.9" cy="1189.3" r="17.5"/>
<text class="ct" x="1506.9" y="1198.9" text-anchor="middle" textLength="22.5" lengthAdjust="spacingAndGlyphs">26</text>
<line class="cl" x1="1925.7" y1="1082.0" x2="1906.6" y2="1065.6"/>
<circle class="cg" cx="1939" cy="1093.4" r="17.5"/>
<text class="ct" x="1939" y="1103.0" text-anchor="middle" textLength="22.5" lengthAdjust="spacingAndGlyphs">27</text>
<line class="cl" x1="1492.7" y1="1665.7" x2="1466.7" y2="1695.2"/>
<circle class="cg" cx="1504.3" cy="1652.6" r="17.5"/>
<text class="ct" x="1504.3" y="1662.2" text-anchor="middle" textLength="22.5" lengthAdjust="spacingAndGlyphs">28</text>
<line class="cl" x1="1731.7" y1="1719.4" x2="1713.8" y2="1700.9"/>
<circle class="cg" cx="1743.9" cy="1732" r="17.5"/>
<text class="ct" x="1743.9" y="1741.6" text-anchor="middle" textLength="22.5" lengthAdjust="spacingAndGlyphs">29</text>
<line class="cl" x1="1801.0" y1="1809.5" x2="1786.7" y2="1793.1"/>
<circle class="cg" cx="1812.5" cy="1822.7" r="17.5"/>
<text class="ct" x="1812.5" y="1832.3" text-anchor="middle" textLength="22.5" lengthAdjust="spacingAndGlyphs">30</text>
<line class="cl" x1="1737.4" y1="585.2" x2="1701.1" y2="542.6"/>
<circle class="cg" cx="1748.8" cy="598.5" r="17.5"/>
<text class="ct" x="1748.8" y="608.1" text-anchor="middle" textLength="22.5" lengthAdjust="spacingAndGlyphs">31</text>
<line class="cl" x1="1737.6" y1="786.4" x2="1722.7" y2="768.7"/>
<circle class="cg" cx="1748.8" cy="799.8" r="17.5"/>
<text class="ct" x="1748.8" y="809.4" text-anchor="middle" textLength="22.5" lengthAdjust="spacingAndGlyphs">32</text>
<line class="cl" x1="762.7" y1="2220.4" x2="794.5" y2="2235.2"/>
<circle class="cg" cx="746.8" cy="2213" r="17.5"/>
<text class="ct" x="746.8" y="2222.6" text-anchor="middle" textLength="22.5" lengthAdjust="spacingAndGlyphs">33</text>
<line class="cl" x1="765.5" y1="2310.3" x2="794.5" y2="2324.6"/>
<circle class="cg" cx="749.8" cy="2302.5" r="17.5"/>
<text class="ct" x="749.8" y="2312.1" text-anchor="middle" textLength="22.5" lengthAdjust="spacingAndGlyphs">34</text>
<line class="cl" x1="1092.0" y1="2237.0" x2="1115" y2="2255.8"/>
<circle class="cg" cx="1078.4" cy="2226" r="17.5"/>
<text class="ct" x="1078.4" y="2235.6" text-anchor="middle" textLength="22.5" lengthAdjust="spacingAndGlyphs">35</text>
<line class="cl" x1="1738.5" y1="2208.8" x2="1723.4" y2="2190.1"/>
<circle class="cg" cx="1749.5" cy="2222.4" r="17.5"/>
<text class="ct" x="1749.5" y="2232.0" text-anchor="middle" textLength="22.5" lengthAdjust="spacingAndGlyphs">36</text>
<line class="cl" x1="2162.5" y1="1379.6" x2="2145.8" y2="1404.5"/>
<rect class="cg" x="2153.2" y="1344.2" width="95" height="35" rx="17.5"/>
<text class="ct" x="2200.3" y="1370" text-anchor="middle" textLength="79" lengthAdjust="spacingAndGlyphs">37 or 38</text>
</svg>
</body></html>
